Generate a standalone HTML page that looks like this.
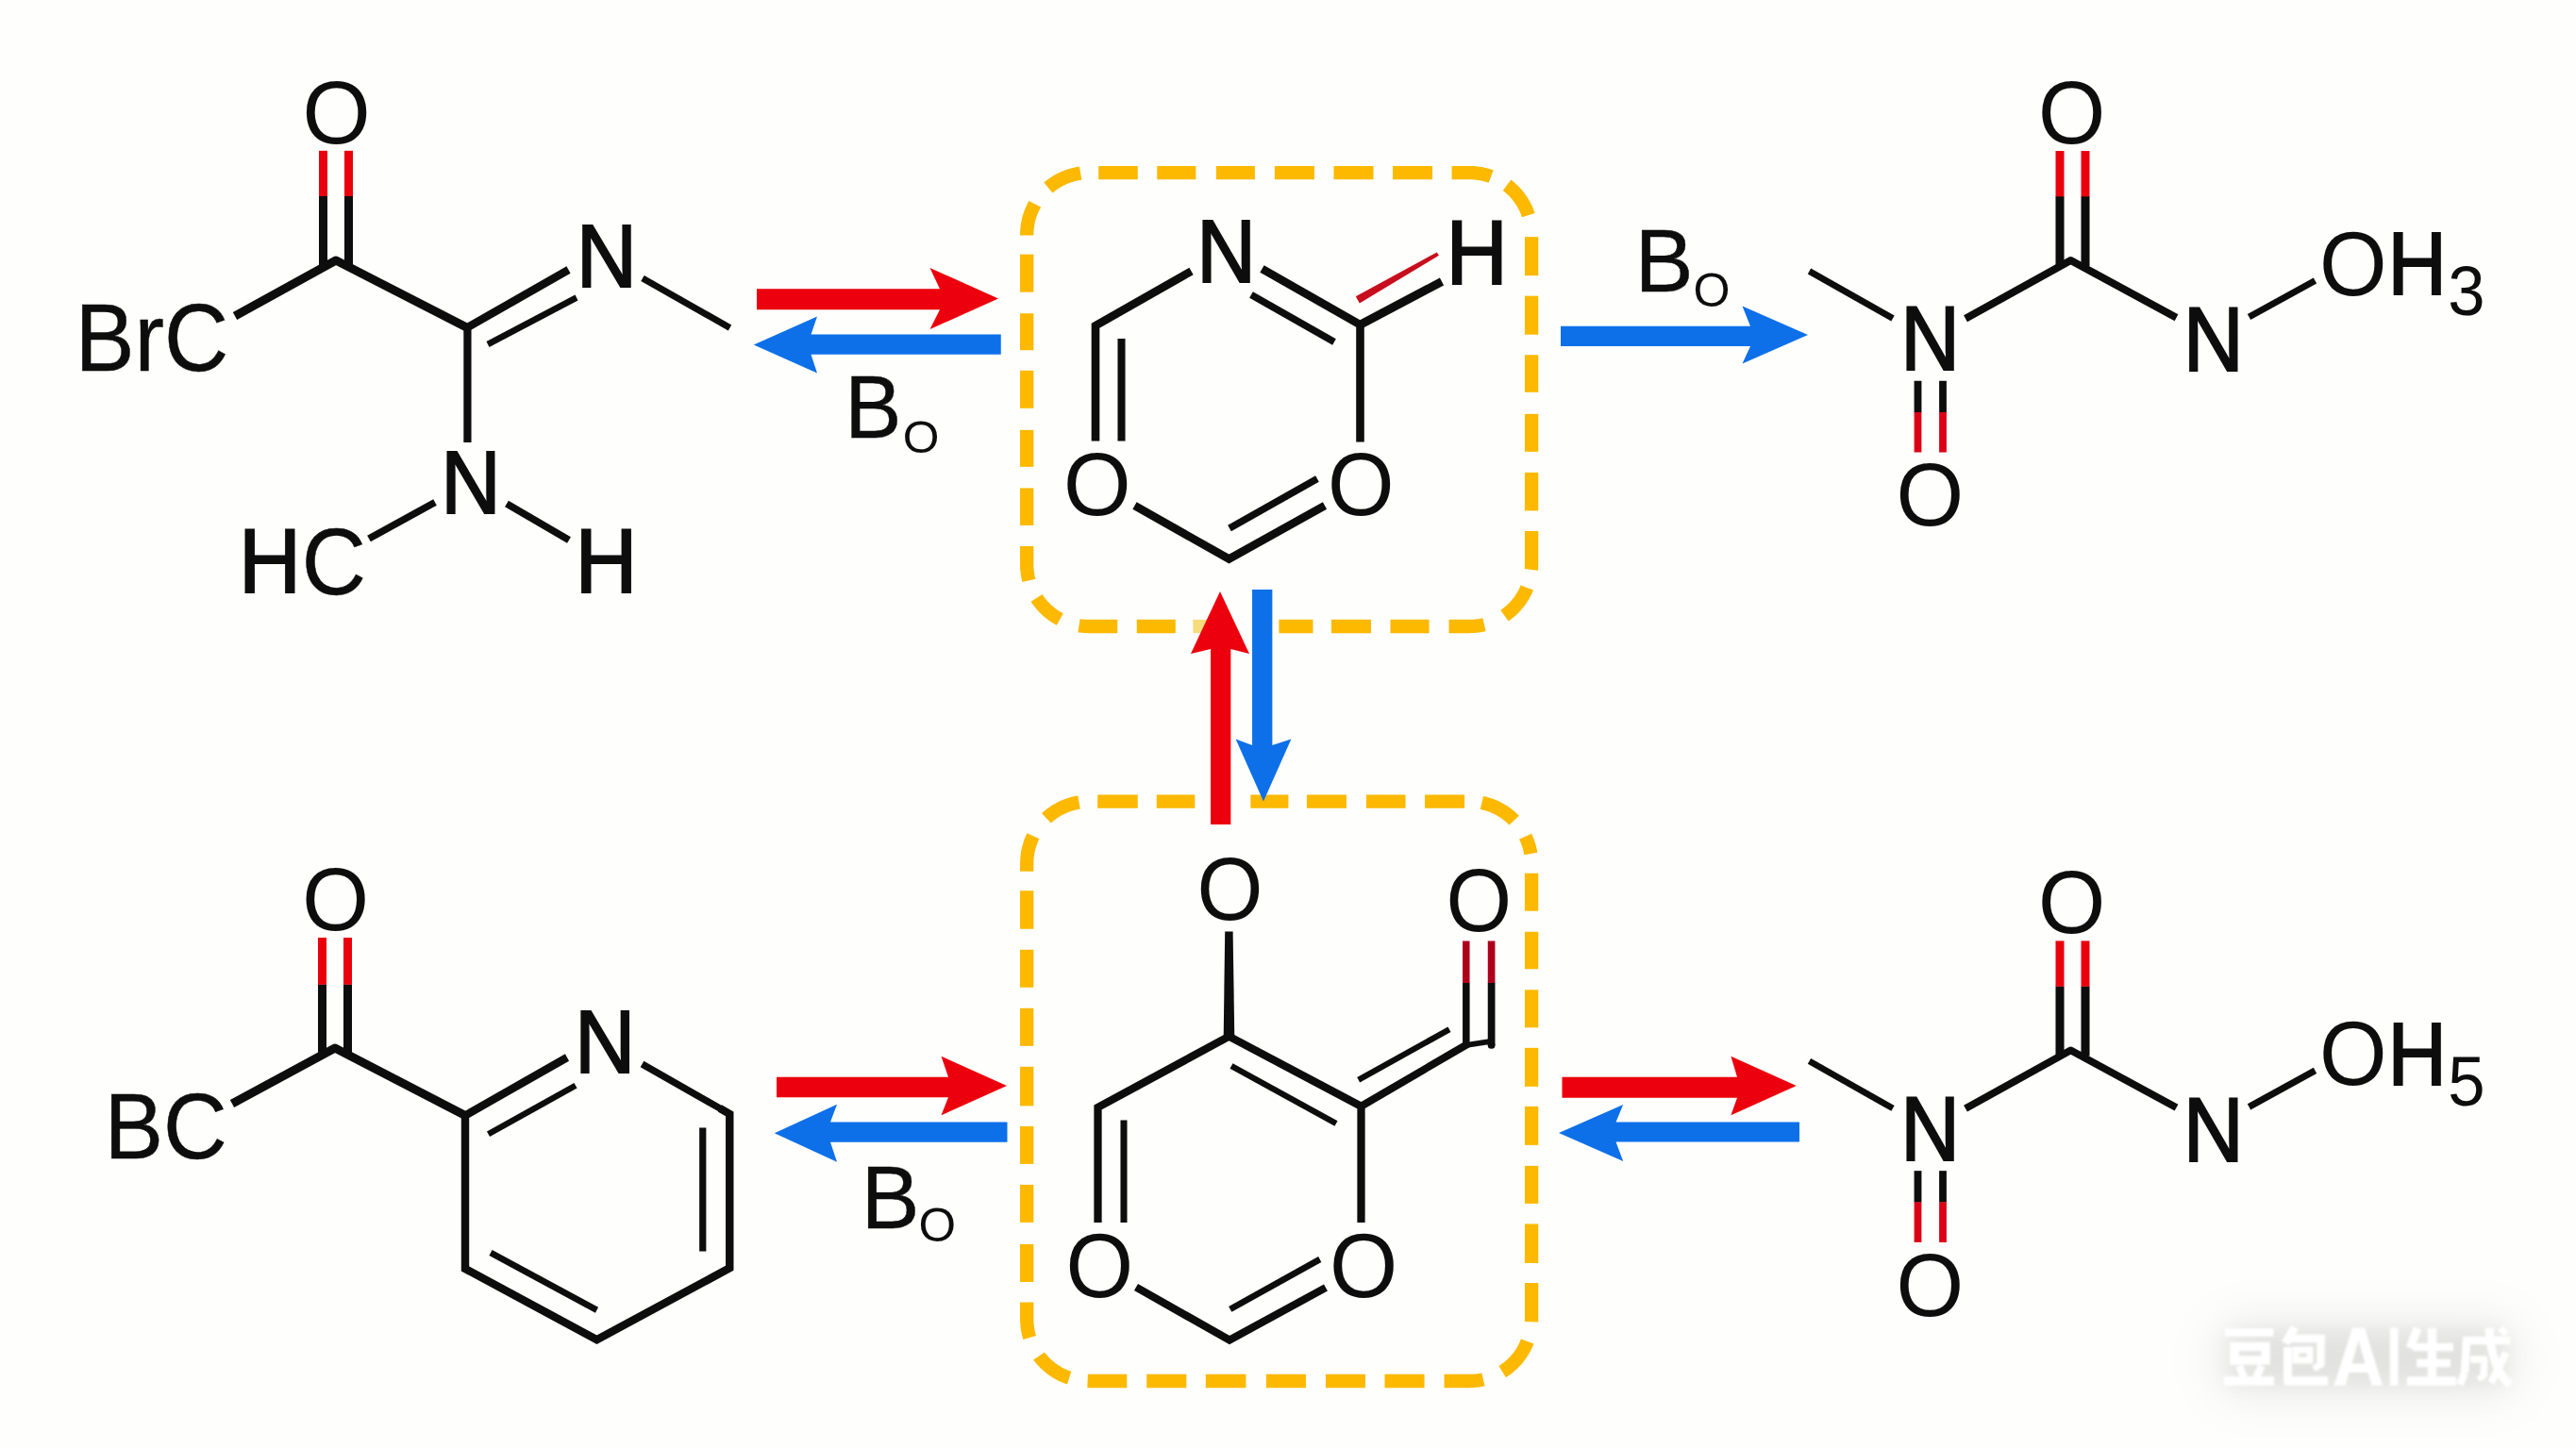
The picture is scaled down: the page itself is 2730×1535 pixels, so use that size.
<!DOCTYPE html>
<html><head><meta charset="utf-8"><title>Reaction scheme</title>
<style>
html,body{margin:0;padding:0;background:#fefefd;}
body{width:2730px;height:1535px;overflow:hidden;}
svg{display:block;font-family:"Liberation Sans",sans-serif;}
</style></head><body>
<svg width="2730" height="1535" viewBox="0 0 2730 1535">
<defs>
<filter id="glow" x="-50%" y="-150%" width="200%" height="400%"><feGaussianBlur stdDeviation="26"/></filter>
<filter id="glow2" x="-50%" y="-150%" width="200%" height="400%"><feGaussianBlur stdDeviation="9"/></filter>
<filter id="soft" x="-5%" y="-20%" width="110%" height="140%"><feGaussianBlur stdDeviation="0.8"/></filter>
<filter id="b" x="-2%" y="-2%" width="104%" height="104%"><feGaussianBlur stdDeviation="0.7"/></filter>
</defs>
<rect width="2730" height="1535" fill="#fefefd"/>
<g filter="url(#glow)"><rect x="2352" y="1404" width="312" height="72" rx="20" fill="#000" opacity="0.085"/></g><g filter="url(#glow2)"><rect x="2360" y="1408" width="298" height="62" rx="10" fill="#000" opacity="0.04"/></g><g stroke="#ffffff" stroke-linecap="butt" fill="none" filter="url(#soft)"><line x1="2358" y1="1412.5" x2="2409.5" y2="1412.5" stroke-width="8.5"/><rect x="2368" y="1427.5" width="33" height="14.5" fill="none" stroke-width="9.5"/><line x1="2373" y1="1448" x2="2378" y2="1460" stroke-width="8"/><line x1="2397" y1="1448" x2="2391" y2="1460" stroke-width="8"/><line x1="2357" y1="1464" x2="2410" y2="1464" stroke-width="9.5"/><line x1="2432" y1="1407" x2="2422" y2="1424" stroke-width="9"/><line x1="2426" y1="1419" x2="2464" y2="1419" stroke-width="8.5"/><line x1="2459.5" y1="1419" x2="2459.5" y2="1447" stroke-width="8.5"/><line x1="2452" y1="1451" x2="2462" y2="1445" stroke-width="7"/><rect x="2433" y="1431" width="15" height="11" fill="none" stroke-width="7"/><line x1="2424.5" y1="1428" x2="2424.5" y2="1466" stroke-width="9"/><line x1="2421" y1="1464" x2="2467" y2="1464" stroke-width="9.5"/><path d="M2473.6 1468.8 L2493 1407.6 L2506 1407.6 L2525 1468.8 L2513.5 1468.8 L2509.5 1455 L2489.5 1455 L2485.5 1468.8 Z M2492.5 1445.5 L2506.5 1445.5 L2499.5 1421 Z" fill="#fff" fill-rule="evenodd" stroke="none"/><line x1="2537.2" y1="1407.6" x2="2537.2" y2="1468.8" stroke-width="8.8"/><line x1="2562" y1="1408" x2="2554" y2="1429" stroke-width="9"/><line x1="2557" y1="1428" x2="2600" y2="1428" stroke-width="8.5"/><line x1="2561" y1="1445" x2="2597" y2="1445" stroke-width="8.5"/><line x1="2551" y1="1464.3" x2="2603" y2="1464.3" stroke-width="9.5"/><line x1="2577.5" y1="1408" x2="2577.5" y2="1464" stroke-width="9.5"/><line x1="2610" y1="1421" x2="2660" y2="1421" stroke-width="8.5"/><line x1="2614" y1="1421" x2="2612" y2="1455" stroke-width="8.5"/><line x1="2612" y1="1455" x2="2607" y2="1468" stroke-width="8"/><line x1="2618" y1="1441" x2="2636" y2="1441" stroke-width="7.5"/><line x1="2633" y1="1441" x2="2632" y2="1460" stroke-width="7.5"/><line x1="2626" y1="1462" x2="2633" y2="1459" stroke-width="6"/><path d="M2638 1407.6 Q2640 1450 2660 1468" fill="none" stroke-width="9"/><line x1="2656" y1="1434" x2="2640" y2="1466" stroke-width="8"/><line x1="2650" y1="1408" x2="2656" y2="1414" stroke-width="7"/></g>
<g filter="url(#b)">
<path d="M1088.20 249.60 L1088.20 249.10 L1088.20 248.60 L1088.22 248.06 L1088.24 247.53 L1088.25 246.99 L1088.27 246.46 L1088.29 245.92 L1088.31 245.39 L1088.32 244.85 L1088.34 244.32 L1088.39 243.78 L1088.45 243.25 L1088.50 242.72 L1088.55 242.18 L1088.60 241.65 L1088.66 241.12 L1088.71 240.58 L1088.76 240.05 L1088.85 239.52 L1088.93 238.99 L1089.02 238.46 L1089.11 237.94 L1089.20 237.41 L1089.28 236.88 L1089.37 236.35 L1089.46 235.82 L1089.58 235.30 L1089.70 234.78 L1089.82 234.26 L1089.95 233.73 L1090.07 233.21 L1090.19 232.69 L1090.31 232.17 L1090.43 231.65 L1090.59 231.13 L1090.74 230.62 L1090.90 230.11 L1091.05 229.60 L1091.21 229.08 L1091.37 228.57 L1091.52 228.06 L1091.68 227.55 L1091.86 227.04 L1092.05 226.54 L1092.24 226.04 L1092.43 225.54 L1092.62 225.04 L1092.81 224.54 L1093.00 224.04 L1093.19 223.53 L1093.41 223.05 L1093.63 222.56 L1093.85 222.07 L1094.07 221.58 L1094.29 221.09 L1094.51 220.61 L1094.73 220.12 L1094.95 219.63 L1095.21 219.16 L1095.46 218.69 L1095.71 218.21 L1095.97 217.74 L1096.22 217.27 L1096.47 216.80 L1096.72 216.32" fill="none" stroke="#fcb900" stroke-width="14.3" />
<path d="M1110.93 199.01 L1111.34 198.67 L1111.76 198.33 L1112.17 197.99 L1112.58 197.66 L1113.00 197.32 L1113.41 196.98 L1113.83 196.64 L1114.26 196.32 L1114.70 196.01 L1115.13 195.70 L1115.57 195.39 L1116.00 195.07 L1116.44 194.76 L1116.87 194.45 L1117.31 194.14 L1117.77 193.86 L1118.22 193.57 L1118.68 193.29 L1119.13 193.01 L1119.59 192.72 L1120.04 192.44 L1120.50 192.16 L1120.95 191.88 L1121.42 191.62 L1121.90 191.37 L1122.37 191.12 L1122.84 190.87 L1123.31 190.61 L1123.79 190.36 L1124.26 190.11 L1124.73 189.85 L1125.22 189.63 L1125.71 189.41 L1126.19 189.19 L1126.68 188.97 L1127.17 188.75 L1127.66 188.53 L1128.15 188.31 L1128.63 188.09 L1129.14 187.90 L1129.64 187.71 L1130.14 187.52 L1130.64 187.33 L1131.14 187.14 L1131.64 186.95 L1132.14 186.76 L1132.65 186.58 L1133.16 186.42 L1133.67 186.27 L1134.18 186.11 L1134.70 185.95 L1135.21 185.80 L1135.72 185.64 L1136.23 185.49 L1136.75 185.33 L1137.27 185.21 L1137.79 185.09 L1138.31 184.97 L1138.83 184.85 L1139.36 184.72 L1139.88 184.60 L1140.40 184.48 L1140.92 184.36 L1141.45 184.27 L1141.98 184.18 L1142.51 184.10 L1143.04 184.01 L1143.56 183.92 L1144.09 183.83 L1144.62 183.75 L1145.15 183.66" fill="none" stroke="#fcb900" stroke-width="14.3" />
<path d="M1164.21 183.10 L1165.21 183.10 L1166.21 183.10 L1167.21 183.10 L1168.21 183.10 L1169.22 183.10 L1170.22 183.10 L1171.22 183.10 L1172.22 183.10 L1173.22 183.10 L1174.22 183.10 L1175.22 183.10 L1176.22 183.10 L1177.22 183.10 L1178.22 183.10 L1179.23 183.10 L1180.23 183.10 L1181.23 183.10 L1182.23 183.10 L1183.23 183.10 L1184.23 183.10 L1185.23 183.10 L1186.23 183.10 L1187.23 183.10 L1188.23 183.10 L1189.24 183.10 L1190.24 183.10 L1191.24 183.10 L1192.24 183.10 L1193.24 183.10 L1194.24 183.10 L1195.24 183.10 L1196.24 183.10 L1197.24 183.10 L1198.24 183.10 L1199.25 183.10 L1200.25 183.10 L1201.25 183.10 L1202.25 183.10 L1203.25 183.10 L1204.25 183.10 L1205.25 183.10 L1205.75 183.10" fill="none" stroke="#fcb900" stroke-width="14.3" />
<path d="M1226.27 183.10 L1227.27 183.10 L1228.27 183.10 L1229.27 183.10 L1230.28 183.10 L1231.28 183.10 L1232.28 183.10 L1233.28 183.10 L1234.28 183.10 L1235.28 183.10 L1236.28 183.10 L1237.28 183.10 L1238.28 183.10 L1239.28 183.10 L1240.29 183.10 L1241.29 183.10 L1242.29 183.10 L1243.29 183.10 L1244.29 183.10 L1245.29 183.10 L1246.29 183.10 L1247.29 183.10 L1248.29 183.10 L1249.29 183.10 L1250.30 183.10 L1251.30 183.10 L1252.30 183.10 L1253.30 183.10 L1254.30 183.10 L1255.30 183.10 L1256.30 183.10 L1257.30 183.10 L1258.30 183.10 L1259.30 183.10 L1260.31 183.10 L1261.31 183.10 L1262.31 183.10 L1263.31 183.10 L1264.31 183.10 L1265.31 183.10 L1266.31 183.10 L1267.31 183.10" fill="none" stroke="#fcb900" stroke-width="14.3" />
<path d="M1288.83 183.10 L1289.83 183.10 L1290.84 183.10 L1291.84 183.10 L1292.84 183.10 L1293.84 183.10 L1294.84 183.10 L1295.84 183.10 L1296.84 183.10 L1297.84 183.10 L1298.84 183.10 L1299.84 183.10 L1300.85 183.10 L1301.85 183.10 L1302.85 183.10 L1303.85 183.10 L1304.85 183.10 L1305.85 183.10 L1306.85 183.10 L1307.85 183.10 L1308.85 183.10 L1309.85 183.10 L1310.86 183.10 L1311.86 183.10 L1312.86 183.10 L1313.86 183.10 L1314.86 183.10 L1315.86 183.10 L1316.86 183.10 L1317.86 183.10 L1318.86 183.10 L1319.86 183.10 L1320.87 183.10 L1321.87 183.10 L1322.87 183.10 L1323.87 183.10 L1324.87 183.10 L1325.87 183.10 L1326.87 183.10 L1327.87 183.10 L1328.87 183.10 L1329.87 183.10" fill="none" stroke="#fcb900" stroke-width="14.3" />
<path d="M1350.90 183.10 L1351.90 183.10 L1352.90 183.10 L1353.90 183.10 L1354.90 183.10 L1355.90 183.10 L1356.90 183.10 L1357.90 183.10 L1358.90 183.10 L1359.90 183.10 L1360.91 183.10 L1361.91 183.10 L1362.91 183.10 L1363.91 183.10 L1364.91 183.10 L1365.91 183.10 L1366.91 183.10 L1367.91 183.10 L1368.91 183.10 L1369.91 183.10 L1370.92 183.10 L1371.92 183.10 L1372.92 183.10 L1373.92 183.10 L1374.92 183.10 L1375.92 183.10 L1376.92 183.10 L1377.92 183.10 L1378.92 183.10 L1379.92 183.10 L1380.93 183.10 L1381.93 183.10 L1382.93 183.10 L1383.93 183.10 L1384.93 183.10 L1385.93 183.10 L1386.93 183.10 L1387.93 183.10 L1388.93 183.10 L1389.93 183.10 L1390.93 183.10 L1391.94 183.10 L1392.94 183.10" fill="none" stroke="#fcb900" stroke-width="14.3" />
<path d="M1413.46 183.10 L1414.46 183.10 L1415.46 183.10 L1416.46 183.10 L1417.46 183.10 L1418.46 183.10 L1419.46 183.10 L1420.46 183.10 L1421.47 183.10 L1422.47 183.10 L1423.47 183.10 L1424.47 183.10 L1425.47 183.10 L1426.47 183.10 L1427.47 183.10 L1428.47 183.10 L1429.47 183.10 L1430.47 183.10 L1431.48 183.10 L1432.48 183.10 L1433.48 183.10 L1434.48 183.10 L1435.48 183.10 L1436.48 183.10 L1437.48 183.10 L1438.48 183.10 L1439.48 183.10 L1440.48 183.10 L1441.49 183.10 L1442.49 183.10 L1443.49 183.10 L1444.49 183.10 L1445.49 183.10 L1446.49 183.10 L1447.49 183.10 L1448.49 183.10 L1449.49 183.10 L1450.49 183.10 L1451.49 183.10 L1452.50 183.10 L1453.50 183.10 L1454.50 183.10 L1455.50 183.10" fill="none" stroke="#fcb900" stroke-width="14.3" />
<path d="M1476.02 183.10 L1477.02 183.10 L1478.02 183.10 L1479.02 183.10 L1480.02 183.10 L1481.02 183.10 L1482.03 183.10 L1483.03 183.10 L1484.03 183.10 L1485.03 183.10 L1486.03 183.10 L1487.03 183.10 L1488.03 183.10 L1489.03 183.10 L1490.03 183.10 L1491.03 183.10 L1492.04 183.10 L1493.04 183.10 L1494.04 183.10 L1495.04 183.10 L1496.04 183.10 L1497.04 183.10 L1498.04 183.10 L1499.04 183.10 L1500.04 183.10 L1501.04 183.10 L1502.04 183.10 L1503.05 183.10 L1504.05 183.10 L1505.05 183.10 L1506.05 183.10 L1507.05 183.10 L1508.05 183.10 L1509.05 183.10 L1510.05 183.10 L1511.05 183.10 L1512.05 183.10 L1513.06 183.10 L1514.06 183.10 L1515.06 183.10 L1516.06 183.10 L1517.06 183.10 L1518.06 183.10" fill="none" stroke="#fcb900" stroke-width="14.3" />
<path d="M1538.58 183.10 L1539.58 183.10 L1540.58 183.10 L1541.58 183.10 L1542.59 183.10 L1543.59 183.10 L1544.59 183.10 L1545.59 183.10 L1546.59 183.10 L1547.59 183.10 L1548.59 183.10 L1549.59 183.10 L1550.59 183.10 L1551.59 183.10 L1552.60 183.10 L1553.60 183.10 L1554.60 183.10 L1555.60 183.10 L1556.60 183.10 L1557.60 183.10 L1558.67 183.14 L1559.74 183.17 L1560.81 183.21 L1561.88 183.24 L1562.95 183.35 L1564.02 183.45 L1565.08 183.56 L1566.15 183.66 L1567.21 183.83 L1568.26 184.01 L1569.32 184.18 L1570.38 184.36 L1571.42 184.60 L1572.47 184.85 L1573.51 185.09 L1574.55 185.33 L1575.58 185.64 L1576.60 185.95 L1577.63 186.27 L1578.65 186.58 L1579.66 186.95 L1580.16 187.14" fill="none" stroke="#fcb900" stroke-width="14.3" />
<path d="M1597.04 196.32 L1597.47 196.64 L1597.89 196.98 L1598.30 197.32 L1598.72 197.66 L1599.13 197.99 L1599.54 198.33 L1599.96 198.67 L1600.37 199.01 L1600.79 199.35 L1601.18 199.72 L1601.57 200.09 L1601.96 200.45 L1602.35 200.82 L1602.74 201.19 L1603.13 201.55 L1603.52 201.92 L1603.92 202.28 L1604.28 202.68 L1604.65 203.07 L1605.01 203.46 L1605.38 203.85 L1605.75 204.24 L1606.11 204.63 L1606.48 205.02 L1606.85 205.41 L1607.19 205.83 L1607.53 206.24 L1607.87 206.66 L1608.21 207.07 L1608.54 207.48 L1608.88 207.90 L1609.22 208.31 L1609.56 208.73 L1609.88 209.16 L1610.19 209.60 L1610.50 210.03 L1610.81 210.47 L1611.13 210.90 L1611.44 211.34 L1611.75 211.77 L1612.06 212.21 L1612.34 212.67 L1612.63 213.12 L1612.91 213.58 L1613.19 214.03 L1613.48 214.49 L1613.76 214.94 L1614.04 215.40 L1614.32 215.85 L1614.58 216.32 L1614.83 216.80 L1615.08 217.27 L1615.33 217.74 L1615.59 218.21 L1615.84 218.69 L1616.09 219.16 L1616.35 219.63 L1616.57 220.12 L1616.79 220.61 L1617.01 221.09 L1617.23 221.58 L1617.45 222.07 L1617.67 222.56 L1617.89 223.05 L1618.11 223.53 L1618.30 224.04 L1618.49 224.54 L1618.68 225.04 L1618.87 225.54 L1619.06 226.04 L1619.25 226.54 L1619.44 227.04 L1619.62 227.55 L1619.78 228.06" fill="none" stroke="#fcb900" stroke-width="14.3" />
<path d="M1623.10 251.10 L1623.10 252.10 L1623.10 253.11 L1623.10 254.11 L1623.10 255.11 L1623.10 256.11 L1623.10 257.11 L1623.10 258.11 L1623.10 259.11 L1623.10 260.11 L1623.10 261.11 L1623.10 262.12 L1623.10 263.12 L1623.10 264.12 L1623.10 265.12 L1623.10 266.12 L1623.10 267.12 L1623.10 268.12 L1623.10 269.12 L1623.10 270.12 L1623.10 271.13 L1623.10 272.13 L1623.10 273.13 L1623.10 274.13 L1623.10 275.13 L1623.10 276.13 L1623.10 277.13 L1623.10 278.13 L1623.10 279.13 L1623.10 280.14 L1623.10 281.14 L1623.10 282.14 L1623.10 283.14 L1623.10 284.14 L1623.10 285.14 L1623.10 286.14 L1623.10 287.14 L1623.10 288.15 L1623.10 289.15 L1623.10 290.15 L1623.10 291.15 L1623.10 292.15" fill="none" stroke="#fcb900" stroke-width="14.3" />
<path d="M1623.10 313.67 L1623.10 314.68 L1623.10 315.68 L1623.10 316.68 L1623.10 317.68 L1623.10 318.68 L1623.10 319.68 L1623.10 320.68 L1623.10 321.68 L1623.10 322.68 L1623.10 323.69 L1623.10 324.69 L1623.10 325.69 L1623.10 326.69 L1623.10 327.69 L1623.10 328.69 L1623.10 329.69 L1623.10 330.69 L1623.10 331.69 L1623.10 332.70 L1623.10 333.70 L1623.10 334.70 L1623.10 335.70 L1623.10 336.70 L1623.10 337.70 L1623.10 338.70 L1623.10 339.70 L1623.10 340.71 L1623.10 341.71 L1623.10 342.71 L1623.10 343.71 L1623.10 344.71 L1623.10 345.71 L1623.10 346.71 L1623.10 347.71 L1623.10 348.71 L1623.10 349.72 L1623.10 350.72 L1623.10 351.72 L1623.10 352.72 L1623.10 353.72 L1623.10 354.72" fill="none" stroke="#fcb900" stroke-width="14.3" />
<path d="M1623.10 376.25 L1623.10 377.25 L1623.10 378.25 L1623.10 379.25 L1623.10 380.25 L1623.10 381.25 L1623.10 382.25 L1623.10 383.25 L1623.10 384.26 L1623.10 385.26 L1623.10 386.26 L1623.10 387.26 L1623.10 388.26 L1623.10 389.26 L1623.10 390.26 L1623.10 391.26 L1623.10 392.26 L1623.10 393.27 L1623.10 394.27 L1623.10 395.27 L1623.10 396.27 L1623.10 397.27 L1623.10 398.27 L1623.10 399.27 L1623.10 400.27 L1623.10 401.27 L1623.10 402.28 L1623.10 403.28 L1623.10 404.28 L1623.10 405.28 L1623.10 406.28 L1623.10 407.28 L1623.10 408.28 L1623.10 409.28 L1623.10 410.28 L1623.10 411.29 L1623.10 412.29 L1623.10 413.29 L1623.10 414.29 L1623.10 415.29 L1623.10 415.79" fill="none" stroke="#fcb900" stroke-width="14.3" />
<path d="M1623.10 438.82 L1623.10 439.82 L1623.10 440.82 L1623.10 441.82 L1623.10 442.82 L1623.10 443.82 L1623.10 444.82 L1623.10 445.83 L1623.10 446.83 L1623.10 447.83 L1623.10 448.83 L1623.10 449.83 L1623.10 450.83 L1623.10 451.83 L1623.10 452.83 L1623.10 453.83 L1623.10 454.84 L1623.10 455.84 L1623.10 456.84 L1623.10 457.84 L1623.10 458.84 L1623.10 459.84 L1623.10 460.84 L1623.10 461.84 L1623.10 462.84 L1623.10 463.85 L1623.10 464.85 L1623.10 465.85 L1623.10 466.85 L1623.10 467.85 L1623.10 468.85 L1623.10 469.85 L1623.10 470.85 L1623.10 471.86 L1623.10 472.86 L1623.10 473.86 L1623.10 474.86 L1623.10 475.86 L1623.10 476.86 L1623.10 477.86 L1623.10 478.86" fill="none" stroke="#fcb900" stroke-width="14.3" />
<path d="M1623.10 500.89 L1623.10 501.89 L1623.10 502.89 L1623.10 503.89 L1623.10 504.89 L1623.10 505.89 L1623.10 506.90 L1623.10 507.90 L1623.10 508.90 L1623.10 509.90 L1623.10 510.90 L1623.10 511.90 L1623.10 512.90 L1623.10 513.90 L1623.10 514.90 L1623.10 515.91 L1623.10 516.91 L1623.10 517.91 L1623.10 518.91 L1623.10 519.91 L1623.10 520.91 L1623.10 521.91 L1623.10 522.91 L1623.10 523.91 L1623.10 524.92 L1623.10 525.92 L1623.10 526.92 L1623.10 527.92 L1623.10 528.92 L1623.10 529.92 L1623.10 530.92 L1623.10 531.92 L1623.10 532.93 L1623.10 533.93 L1623.10 534.93 L1623.10 535.93 L1623.10 536.93 L1623.10 537.93 L1623.10 538.93 L1623.10 539.93 L1623.10 540.93 L1623.10 541.43" fill="none" stroke="#fcb900" stroke-width="14.3" />
<path d="M1623.10 562.96 L1623.10 563.96 L1623.10 564.96 L1623.10 565.96 L1623.10 566.96 L1623.10 567.97 L1623.10 568.97 L1623.10 569.97 L1623.10 570.97 L1623.10 571.97 L1623.10 572.97 L1623.10 573.97 L1623.10 574.97 L1623.10 575.97 L1623.10 576.98 L1623.10 577.98 L1623.10 578.98 L1623.10 579.98 L1623.10 580.98 L1623.10 581.98 L1623.10 582.98 L1623.10 583.98 L1623.10 584.98 L1623.10 585.99 L1623.10 586.99 L1623.10 587.99 L1623.10 588.99 L1623.10 589.99 L1623.10 590.99 L1623.10 591.99 L1623.10 592.99 L1623.10 593.99 L1623.10 595.00 L1623.10 596.00 L1623.10 597.00 L1623.10 598.00 L1623.08 599.04 L1623.05 600.11 L1623.01 601.18 L1622.98 602.25 L1622.91 603.32 L1622.85 603.85" fill="none" stroke="#fcb900" stroke-width="14.3" />
<path d="M1618.30 623.06 L1618.11 623.57 L1617.89 624.05 L1617.67 624.54 L1617.45 625.03 L1617.23 625.52 L1617.01 626.01 L1616.79 626.49 L1616.57 626.98 L1616.35 627.47 L1616.09 627.94 L1615.84 628.41 L1615.59 628.89 L1615.33 629.36 L1615.08 629.83 L1614.83 630.30 L1614.58 630.78 L1614.32 631.25 L1614.04 631.70 L1613.76 632.16 L1613.48 632.61 L1613.19 633.07 L1612.91 633.52 L1612.63 633.98 L1612.34 634.43 L1612.06 634.89 L1611.75 635.33 L1611.44 635.76 L1611.13 636.20 L1610.81 636.63 L1610.50 637.07 L1610.19 637.50 L1609.88 637.94 L1609.56 638.37 L1609.22 638.79 L1608.88 639.20 L1608.54 639.62 L1608.21 640.03 L1607.87 640.44 L1607.53 640.86 L1607.19 641.27 L1606.85 641.69 L1606.48 642.08 L1606.11 642.47 L1605.75 642.86 L1605.38 643.25 L1605.01 643.64 L1604.65 644.03 L1604.28 644.42 L1603.92 644.82 L1603.52 645.18 L1603.13 645.55 L1602.74 645.91 L1602.35 646.28 L1601.96 646.65 L1601.57 647.01 L1601.18 647.38 L1600.79 647.75 L1600.37 648.09 L1599.96 648.43 L1599.54 648.77 L1599.13 649.11 L1598.72 649.44 L1598.30 649.78 L1597.89 650.12 L1597.47 650.46 L1597.04 650.78 L1596.60 651.09 L1596.17 651.40 L1595.73 651.71 L1595.30 652.03 L1594.86 652.34 L1594.43 652.65" fill="none" stroke="#fcb900" stroke-width="14.3" />
<path d="M1572.99 662.13 L1572.47 662.25 L1571.94 662.38 L1571.42 662.50 L1570.90 662.62 L1570.38 662.74 L1569.85 662.83 L1569.32 662.92 L1568.79 663.00 L1568.26 663.09 L1567.74 663.18 L1567.21 663.27 L1566.68 663.35 L1566.15 663.44 L1565.62 663.49 L1565.08 663.54 L1564.55 663.60 L1564.02 663.65 L1563.48 663.70 L1562.95 663.75 L1562.42 663.81 L1561.88 663.86 L1561.35 663.88 L1560.81 663.89 L1560.28 663.91 L1559.74 663.93 L1559.21 663.95 L1558.67 663.96 L1558.14 663.98 L1557.60 664.00 L1557.10 664.00 L1556.60 664.00 L1556.10 664.00 L1555.60 664.00 L1555.10 664.00 L1554.60 664.00 L1554.10 664.00 L1553.60 664.00 L1553.10 664.00 L1552.60 664.00 L1552.09 664.00 L1551.59 664.00 L1551.09 664.00 L1550.59 664.00 L1550.09 664.00 L1549.59 664.00 L1549.09 664.00 L1548.59 664.00 L1548.09 664.00 L1547.59 664.00 L1547.09 664.00 L1546.59 664.00 L1546.09 664.00 L1545.59 664.00 L1545.09 664.00 L1544.59 664.00 L1544.09 664.00 L1543.59 664.00 L1543.09 664.00 L1542.59 664.00 L1542.08 664.00 L1541.58 664.00 L1541.08 664.00 L1540.58 664.00 L1540.08 664.00 L1539.58 664.00 L1539.08 664.00 L1538.58 664.00 L1538.08 664.00 L1537.58 664.00 L1537.08 664.00 L1536.58 664.00 L1536.08 664.00 L1535.58 664.00" fill="none" stroke="#fcb900" stroke-width="14.3" />
<path d="M1514.56 664.00 L1513.56 664.00 L1512.56 664.00 L1511.55 664.00 L1510.55 664.00 L1509.55 664.00 L1508.55 664.00 L1507.55 664.00 L1506.55 664.00 L1505.55 664.00 L1504.55 664.00 L1503.55 664.00 L1502.55 664.00 L1501.54 664.00 L1500.54 664.00 L1499.54 664.00 L1498.54 664.00 L1497.54 664.00 L1496.54 664.00 L1495.54 664.00 L1494.54 664.00 L1493.54 664.00 L1492.54 664.00 L1491.53 664.00 L1490.53 664.00 L1489.53 664.00 L1488.53 664.00 L1487.53 664.00 L1486.53 664.00 L1485.53 664.00 L1484.53 664.00 L1483.53 664.00 L1482.53 664.00 L1481.52 664.00 L1480.52 664.00 L1479.52 664.00 L1478.52 664.00 L1477.52 664.00 L1476.52 664.00 L1475.52 664.00 L1474.52 664.00 L1473.52 664.00" fill="none" stroke="#fcb900" stroke-width="14.3" />
<path d="M1453.00 664.00 L1452.00 664.00 L1450.99 664.00 L1449.99 664.00 L1448.99 664.00 L1447.99 664.00 L1446.99 664.00 L1445.99 664.00 L1444.99 664.00 L1443.99 664.00 L1442.99 664.00 L1441.99 664.00 L1440.98 664.00 L1439.98 664.00 L1438.98 664.00 L1437.98 664.00 L1436.98 664.00 L1435.98 664.00 L1434.98 664.00 L1433.98 664.00 L1432.98 664.00 L1431.98 664.00 L1430.97 664.00 L1429.97 664.00 L1428.97 664.00 L1427.97 664.00 L1426.97 664.00 L1425.97 664.00 L1424.97 664.00 L1423.97 664.00 L1422.97 664.00 L1421.97 664.00 L1420.96 664.00 L1419.96 664.00 L1418.96 664.00 L1417.96 664.00 L1416.96 664.00 L1415.96 664.00 L1414.96 664.00 L1413.96 664.00 L1412.96 664.00 L1411.96 664.00 L1410.95 664.00" fill="none" stroke="#fcb900" stroke-width="14.3" />
<path d="M1391.44 664.00 L1390.93 664.00 L1390.43 664.00 L1389.93 664.00 L1389.43 664.00 L1388.93 664.00 L1388.43 664.00 L1387.93 664.00 L1387.43 664.00 L1386.93 664.00 L1386.43 664.00 L1385.93 664.00 L1385.43 664.00 L1384.93 664.00 L1384.43 664.00 L1383.93 664.00 L1383.43 664.00 L1382.93 664.00 L1382.43 664.00 L1381.93 664.00 L1381.43 664.00 L1380.93 664.00 L1380.42 664.00 L1379.92 664.00 L1379.42 664.00 L1378.92 664.00 L1378.42 664.00 L1377.92 664.00 L1377.42 664.00 L1376.92 664.00 L1376.42 664.00 L1375.92 664.00 L1375.42 664.00 L1374.92 664.00 L1374.42 664.00 L1373.92 664.00 L1373.42 664.00 L1372.92 664.00 L1372.42 664.00 L1371.92 664.00 L1371.42 664.00 L1370.92 664.00 L1370.41 664.00 L1369.91 664.00 L1369.41 664.00 L1368.91 664.00 L1368.41 664.00 L1367.91 664.00 L1367.41 664.00 L1366.91 664.00 L1366.41 664.00 L1365.91 664.00 L1365.41 664.00 L1364.91 664.00 L1364.41 664.00 L1363.91 664.00 L1363.41 664.00 L1362.91 664.00 L1362.41 664.00 L1361.91 664.00 L1361.41 664.00 L1360.91 664.00 L1360.40 664.00 L1359.90 664.00 L1359.40 664.00 L1358.90 664.00 L1358.40 664.00 L1357.90 664.00 L1357.40 664.00 L1356.90 664.00 L1356.40 664.00 L1355.90 664.00 L1355.40 664.00" fill="none" stroke="#fcb900" stroke-width="14.3" />
<path d="M1282.83 664.00 L1282.33 664.00 L1281.83 664.00 L1281.33 664.00 L1280.83 664.00 L1280.33 664.00 L1279.82 664.00 L1279.32 664.00 L1278.82 664.00 L1278.32 664.00 L1277.82 664.00 L1277.32 664.00 L1276.82 664.00 L1276.32 664.00 L1275.82 664.00 L1275.32 664.00 L1274.82 664.00 L1274.32 664.00 L1273.82 664.00 L1273.32 664.00 L1272.82 664.00 L1272.32 664.00 L1271.82 664.00 L1271.32 664.00 L1270.82 664.00 L1270.32 664.00 L1269.81 664.00 L1269.31 664.00 L1268.81 664.00 L1268.31 664.00 L1267.81 664.00 L1267.31 664.00 L1266.81 664.00 L1266.31 664.00 L1265.81 664.00 L1265.31 664.00 L1264.81 664.00 L1264.31 664.00" fill="none" stroke="#f7dc7e" stroke-width="14.3" />
<path d="M1245.79 664.00 L1244.79 664.00 L1243.79 664.00 L1242.79 664.00 L1241.79 664.00 L1240.79 664.00 L1239.79 664.00 L1238.78 664.00 L1237.78 664.00 L1236.78 664.00 L1235.78 664.00 L1234.78 664.00 L1233.78 664.00 L1232.78 664.00 L1231.78 664.00 L1230.78 664.00 L1229.78 664.00 L1228.77 664.00 L1227.77 664.00 L1226.77 664.00 L1225.77 664.00 L1224.77 664.00 L1223.77 664.00 L1222.77 664.00 L1221.77 664.00 L1220.77 664.00 L1219.77 664.00 L1218.76 664.00 L1217.76 664.00 L1216.76 664.00 L1215.76 664.00 L1214.76 664.00 L1213.76 664.00 L1212.76 664.00 L1211.76 664.00 L1210.76 664.00 L1209.76 664.00 L1208.75 664.00 L1207.75 664.00 L1206.75 664.00 L1205.75 664.00 L1204.75 664.00" fill="none" stroke="#fcb900" stroke-width="14.3" />
<path d="M1184.23 664.00 L1183.23 664.00 L1182.23 664.00 L1181.23 664.00 L1180.23 664.00 L1179.23 664.00 L1178.22 664.00 L1177.22 664.00 L1176.22 664.00 L1175.22 664.00 L1174.22 664.00 L1173.22 664.00 L1172.22 664.00 L1171.22 664.00 L1170.22 664.00 L1169.22 664.00 L1168.21 664.00 L1167.21 664.00 L1166.21 664.00 L1165.21 664.00 L1164.21 664.00 L1163.21 664.00 L1162.21 664.00 L1161.21 664.00 L1160.21 664.00 L1159.21 664.00 L1158.20 664.00 L1157.20 664.00 L1156.20 664.00 L1155.20 664.00 L1154.20 664.00 L1153.16 663.98 L1152.09 663.95 L1151.02 663.91 L1149.95 663.88 L1148.88 663.81 L1147.82 663.70 L1146.75 663.60 L1145.68 663.49 L1144.62 663.35 L1143.56 663.18" fill="none" stroke="#fcb900" stroke-width="14.3" />
<path d="M1123.31 656.49 L1122.84 656.23 L1122.37 655.98 L1121.90 655.73 L1121.42 655.48 L1120.95 655.22 L1120.50 654.94 L1120.04 654.66 L1119.59 654.38 L1119.13 654.09 L1118.68 653.81 L1118.22 653.53 L1117.77 653.24 L1117.31 652.96 L1116.87 652.65 L1116.44 652.34 L1116.00 652.03 L1115.57 651.71 L1115.13 651.40 L1114.70 651.09 L1114.26 650.78 L1113.83 650.46 L1113.41 650.12 L1113.00 649.78 L1112.58 649.44 L1112.17 649.11 L1111.76 648.77 L1111.34 648.43 L1110.93 648.09 L1110.51 647.75 L1110.12 647.38 L1109.73 647.01 L1109.34 646.65 L1108.95 646.28 L1108.56 645.91 L1108.17 645.55 L1107.78 645.18 L1107.38 644.82 L1107.02 644.42 L1106.65 644.03 L1106.29 643.64 L1105.92 643.25 L1105.55 642.86 L1105.19 642.47 L1104.82 642.08 L1104.45 641.69 L1104.11 641.27 L1103.77 640.86 L1103.43 640.44 L1103.09 640.03 L1102.76 639.62 L1102.42 639.20 L1102.08 638.79 L1101.74 638.37 L1101.42 637.94 L1101.11 637.50 L1100.80 637.07 L1100.49 636.63 L1100.17 636.20 L1099.86 635.76 L1099.55 635.33 L1099.24 634.89 L1098.96 634.43 L1098.67 633.98" fill="none" stroke="#fcb900" stroke-width="14.3" />
<path d="M1090.43 615.45 L1090.31 614.93 L1090.19 614.41 L1090.07 613.89 L1089.95 613.37 L1089.82 612.84 L1089.70 612.32 L1089.58 611.80 L1089.46 611.28 L1089.37 610.75 L1089.28 610.22 L1089.20 609.69 L1089.11 609.16 L1089.02 608.64 L1088.93 608.11 L1088.85 607.58 L1088.76 607.05 L1088.71 606.52 L1088.66 605.98 L1088.60 605.45 L1088.55 604.92 L1088.50 604.38 L1088.45 603.85 L1088.39 603.32 L1088.34 602.78 L1088.32 602.25 L1088.31 601.71 L1088.29 601.18 L1088.27 600.64 L1088.25 600.11 L1088.24 599.57 L1088.22 599.04 L1088.20 598.50 L1088.20 598.00 L1088.20 597.50 L1088.20 597.00 L1088.20 596.50 L1088.20 596.00 L1088.20 595.50 L1088.20 595.00 L1088.20 594.50 L1088.20 593.99 L1088.20 593.49 L1088.20 592.99 L1088.20 592.49 L1088.20 591.99 L1088.20 591.49 L1088.20 590.99 L1088.20 590.49 L1088.20 589.99 L1088.20 589.49 L1088.20 588.99 L1088.20 588.49 L1088.20 587.99 L1088.20 587.49 L1088.20 586.99 L1088.20 586.49 L1088.20 585.99 L1088.20 585.49 L1088.20 584.98 L1088.20 584.48 L1088.20 583.98 L1088.20 583.48 L1088.20 582.98 L1088.20 582.48 L1088.20 581.98 L1088.20 581.48 L1088.20 580.98 L1088.20 580.48 L1088.20 579.98 L1088.20 579.48 L1088.20 578.98" fill="none" stroke="#fcb900" stroke-width="14.3" />
<path d="M1088.20 556.95 L1088.20 555.95 L1088.20 554.95 L1088.20 553.95 L1088.20 552.95 L1088.20 551.95 L1088.20 550.95 L1088.20 549.94 L1088.20 548.94 L1088.20 547.94 L1088.20 546.94 L1088.20 545.94 L1088.20 544.94 L1088.20 543.94 L1088.20 542.94 L1088.20 541.94 L1088.20 540.93 L1088.20 539.93 L1088.20 538.93 L1088.20 537.93 L1088.20 536.93 L1088.20 535.93 L1088.20 534.93 L1088.20 533.93 L1088.20 532.93 L1088.20 531.92 L1088.20 530.92 L1088.20 529.92 L1088.20 528.92 L1088.20 527.92 L1088.20 526.92 L1088.20 525.92 L1088.20 524.92 L1088.20 523.91 L1088.20 522.91 L1088.20 521.91 L1088.20 520.91 L1088.20 519.91 L1088.20 518.91 L1088.20 517.91 L1088.20 517.41" fill="none" stroke="#fcb900" stroke-width="14.3" />
<path d="M1088.20 494.88 L1088.20 494.38 L1088.20 493.88 L1088.20 493.38 L1088.20 492.88 L1088.20 492.38 L1088.20 491.88 L1088.20 491.38 L1088.20 490.88 L1088.20 490.38 L1088.20 489.88 L1088.20 489.38 L1088.20 488.87 L1088.20 488.37 L1088.20 487.87 L1088.20 487.37 L1088.20 486.87 L1088.20 486.37 L1088.20 485.87 L1088.20 485.37 L1088.20 484.87 L1088.20 484.37 L1088.20 483.87 L1088.20 483.37 L1088.20 482.87 L1088.20 482.37 L1088.20 481.87 L1088.20 481.37 L1088.20 480.87 L1088.20 480.36 L1088.20 479.86 L1088.20 479.36 L1088.20 478.86 L1088.20 478.36 L1088.20 477.86 L1088.20 477.36 L1088.20 476.86 L1088.20 476.36 L1088.20 475.86 L1088.20 475.36 L1088.20 474.86 L1088.20 474.36 L1088.20 473.86 L1088.20 473.36 L1088.20 472.86 L1088.20 472.36 L1088.20 471.86 L1088.20 471.35 L1088.20 470.85 L1088.20 470.35 L1088.20 469.85 L1088.20 469.35 L1088.20 468.85 L1088.20 468.35 L1088.20 467.85 L1088.20 467.35 L1088.20 466.85 L1088.20 466.35 L1088.20 465.85 L1088.20 465.35 L1088.20 464.85 L1088.20 464.35 L1088.20 463.85 L1088.20 463.35 L1088.20 462.84 L1088.20 462.34 L1088.20 461.84 L1088.20 461.34 L1088.20 460.84 L1088.20 460.34 L1088.20 459.84 L1088.20 459.34 L1088.20 458.84 L1088.20 458.34 L1088.20 457.84 L1088.20 457.34 L1088.20 456.84 L1088.20 456.34 L1088.20 455.84" fill="none" stroke="#fcb900" stroke-width="14.3" />
<path d="M1088.20 432.81 L1088.20 431.81 L1088.20 430.81 L1088.20 429.81 L1088.20 428.81 L1088.20 427.80 L1088.20 426.80 L1088.20 425.80 L1088.20 424.80 L1088.20 423.80 L1088.20 422.80 L1088.20 421.80 L1088.20 420.80 L1088.20 419.80 L1088.20 418.79 L1088.20 417.79 L1088.20 416.79 L1088.20 415.79 L1088.20 414.79 L1088.20 413.79 L1088.20 412.79 L1088.20 411.79 L1088.20 410.79 L1088.20 409.78 L1088.20 408.78 L1088.20 407.78 L1088.20 406.78 L1088.20 405.78 L1088.20 404.78 L1088.20 403.78 L1088.20 402.78 L1088.20 401.78 L1088.20 400.77 L1088.20 399.77 L1088.20 398.77 L1088.20 397.77 L1088.20 396.77 L1088.20 395.77 L1088.20 394.77 L1088.20 393.77 L1088.20 392.76" fill="none" stroke="#fcb900" stroke-width="14.3" />
<path d="M1088.20 371.24 L1088.20 370.74 L1088.20 370.24 L1088.20 369.74 L1088.20 369.24 L1088.20 368.74 L1088.20 368.24 L1088.20 367.74 L1088.20 367.24 L1088.20 366.74 L1088.20 366.23 L1088.20 365.73 L1088.20 365.23 L1088.20 364.73 L1088.20 364.23 L1088.20 363.73 L1088.20 363.23 L1088.20 362.73 L1088.20 362.23 L1088.20 361.73 L1088.20 361.23 L1088.20 360.73 L1088.20 360.23 L1088.20 359.73 L1088.20 359.23 L1088.20 358.73 L1088.20 358.23 L1088.20 357.72 L1088.20 357.22 L1088.20 356.72 L1088.20 356.22 L1088.20 355.72 L1088.20 355.22 L1088.20 354.72 L1088.20 354.22 L1088.20 353.72 L1088.20 353.22 L1088.20 352.72 L1088.20 352.22 L1088.20 351.72 L1088.20 351.22 L1088.20 350.72 L1088.20 350.22 L1088.20 349.72 L1088.20 349.22 L1088.20 348.71 L1088.20 348.21 L1088.20 347.71 L1088.20 347.21 L1088.20 346.71 L1088.20 346.21 L1088.20 345.71 L1088.20 345.21 L1088.20 344.71 L1088.20 344.21 L1088.20 343.71 L1088.20 343.21 L1088.20 342.71 L1088.20 342.21 L1088.20 341.71 L1088.20 341.21 L1088.20 340.71 L1088.20 340.20 L1088.20 339.70 L1088.20 339.20 L1088.20 338.70 L1088.20 338.20 L1088.20 337.70 L1088.20 337.20 L1088.20 336.70 L1088.20 336.20 L1088.20 335.70 L1088.20 335.20 L1088.20 334.70 L1088.20 334.20 L1088.20 333.70 L1088.20 333.20 L1088.20 332.70 L1088.20 332.20" fill="none" stroke="#fcb900" stroke-width="14.3" />
<path d="M1088.20 309.67 L1088.20 308.67 L1088.20 307.67 L1088.20 306.67 L1088.20 305.67 L1088.20 304.66 L1088.20 303.66 L1088.20 302.66 L1088.20 301.66 L1088.20 300.66 L1088.20 299.66 L1088.20 298.66 L1088.20 297.66 L1088.20 296.65 L1088.20 295.65 L1088.20 294.65 L1088.20 293.65 L1088.20 292.65 L1088.20 291.65 L1088.20 290.65 L1088.20 289.65 L1088.20 288.65 L1088.20 287.64 L1088.20 286.64 L1088.20 285.64 L1088.20 284.64 L1088.20 283.64 L1088.20 282.64 L1088.20 281.64 L1088.20 280.64 L1088.20 279.64 L1088.20 278.63 L1088.20 277.63 L1088.20 276.63 L1088.20 275.63 L1088.20 274.63 L1088.20 273.63 L1088.20 272.63 L1088.20 271.63 L1088.20 270.63 L1088.20 269.62" fill="none" stroke="#fcb900" stroke-width="14.3" />
<path d="M1088.20 923.71 L1088.20 923.20 L1088.20 922.70 L1088.20 922.20 L1088.20 921.70 L1088.20 921.20 L1088.20 920.70 L1088.20 920.20 L1088.20 919.70 L1088.20 919.20 L1088.20 918.70 L1088.20 918.20 L1088.20 917.70 L1088.20 917.20 L1088.20 916.70 L1088.20 916.20 L1088.20 915.70 L1088.20 915.20 L1088.22 914.66 L1088.24 914.13 L1088.25 913.59 L1088.27 913.06 L1088.29 912.52 L1088.31 911.99 L1088.32 911.45 L1088.34 910.92 L1088.39 910.38 L1088.45 909.85 L1088.50 909.32 L1088.55 908.78 L1088.60 908.25 L1088.66 907.72 L1088.71 907.18 L1088.76 906.65 L1088.85 906.12 L1088.93 905.59 L1089.02 905.06 L1089.11 904.54 L1089.20 904.01 L1089.28 903.48 L1089.37 902.95 L1089.46 902.42 L1089.58 901.90 L1089.70 901.38 L1089.82 900.86 L1089.95 900.33 L1090.07 899.81 L1090.19 899.29 L1090.31 898.77 L1090.43 898.25 L1090.59 897.73 L1090.74 897.22 L1090.90 896.71 L1091.05 896.20 L1091.21 895.68 L1091.37 895.17 L1091.52 894.66 L1091.68 894.15 L1091.86 893.64 L1092.05 893.14 L1092.24 892.64 L1092.43 892.14 L1092.62 891.64 L1092.81 891.14 L1093.00 890.64 L1093.19 890.13 L1093.41 889.65 L1093.63 889.16 L1093.85 888.67 L1094.07 888.18 L1094.29 887.69 L1094.51 887.21 L1094.73 886.72 L1094.95 886.23" fill="none" stroke="#fcb900" stroke-width="14.3" />
<path d="M1108.95 867.42 L1109.34 867.05 L1109.73 866.69 L1110.12 866.32 L1110.51 865.95 L1110.93 865.61 L1111.34 865.27 L1111.76 864.93 L1112.17 864.59 L1112.58 864.26 L1113.00 863.92 L1113.41 863.58 L1113.83 863.24 L1114.26 862.92 L1114.70 862.61 L1115.13 862.30 L1115.57 861.99 L1116.00 861.67 L1116.44 861.36 L1116.87 861.05 L1117.31 860.74 L1117.77 860.46 L1118.22 860.17 L1118.68 859.89 L1119.13 859.61 L1119.59 859.32 L1120.04 859.04 L1120.50 858.76 L1120.95 858.48 L1121.42 858.22 L1121.90 857.97 L1122.37 857.72 L1122.84 857.47 L1123.31 857.21 L1123.79 856.96 L1124.26 856.71 L1124.73 856.45 L1125.22 856.23 L1125.71 856.01 L1126.19 855.79 L1126.68 855.57 L1127.17 855.35 L1127.66 855.13 L1128.15 854.91 L1128.63 854.69 L1129.14 854.50 L1129.64 854.31 L1130.14 854.12 L1130.64 853.93 L1131.14 853.74 L1131.64 853.55 L1132.14 853.36 L1132.65 853.18 L1133.16 853.02 L1133.67 852.87 L1134.18 852.71 L1134.70 852.55 L1135.21 852.40 L1135.72 852.24 L1136.23 852.09 L1136.75 851.93 L1137.27 851.81 L1137.79 851.69 L1138.31 851.57 L1138.83 851.45 L1139.36 851.32 L1139.88 851.20 L1140.40 851.08 L1140.92 850.96 L1141.45 850.87 L1141.98 850.78 L1142.51 850.70 L1143.04 850.61 L1143.56 850.52" fill="none" stroke="#fcb900" stroke-width="14.3" />
<path d="M1163.21 849.70 L1164.21 849.70 L1165.21 849.70 L1166.21 849.70 L1167.21 849.70 L1168.21 849.70 L1169.22 849.70 L1170.22 849.70 L1171.22 849.70 L1172.22 849.70 L1173.22 849.70 L1174.22 849.70 L1175.22 849.70 L1176.22 849.70 L1177.22 849.70 L1178.22 849.70 L1179.23 849.70 L1180.23 849.70 L1181.23 849.70 L1182.23 849.70 L1183.23 849.70 L1184.23 849.70 L1185.23 849.70 L1186.23 849.70 L1187.23 849.70 L1188.23 849.70 L1189.24 849.70 L1190.24 849.70 L1191.24 849.70 L1192.24 849.70 L1193.24 849.70 L1194.24 849.70 L1195.24 849.70 L1196.24 849.70 L1197.24 849.70 L1198.24 849.70 L1199.25 849.70 L1200.25 849.70 L1201.25 849.70 L1202.25 849.70 L1203.25 849.70 L1204.25 849.70 L1205.25 849.70 L1205.75 849.70" fill="none" stroke="#fcb900" stroke-width="14.3" />
<path d="M1225.77 849.70 L1226.77 849.70 L1227.77 849.70 L1228.77 849.70 L1229.78 849.70 L1230.78 849.70 L1231.78 849.70 L1232.78 849.70 L1233.78 849.70 L1234.78 849.70 L1235.78 849.70 L1236.78 849.70 L1237.78 849.70 L1238.78 849.70 L1239.79 849.70 L1240.79 849.70 L1241.79 849.70 L1242.79 849.70 L1243.79 849.70 L1244.79 849.70 L1245.79 849.70 L1246.79 849.70 L1247.79 849.70 L1248.79 849.70 L1249.80 849.70 L1250.80 849.70 L1251.80 849.70 L1252.80 849.70 L1253.80 849.70 L1254.80 849.70 L1255.80 849.70 L1256.80 849.70 L1257.80 849.70 L1258.80 849.70 L1259.81 849.70 L1260.81 849.70 L1261.81 849.70 L1262.81 849.70 L1263.81 849.70 L1264.81 849.70 L1265.81 849.70 L1266.31 849.70" fill="none" stroke="#fcb900" stroke-width="14.3" />
<path d="M1325.37 849.70 L1326.37 849.70 L1327.37 849.70 L1328.37 849.70 L1329.37 849.70 L1330.37 849.70 L1331.38 849.70 L1332.38 849.70 L1333.38 849.70 L1334.38 849.70 L1335.38 849.70 L1336.38 849.70 L1337.38 849.70 L1338.38 849.70 L1339.38 849.70 L1340.38 849.70 L1341.39 849.70 L1342.39 849.70 L1343.39 849.70 L1344.39 849.70 L1345.39 849.70 L1346.39 849.70 L1347.39 849.70 L1348.39 849.70 L1349.39 849.70 L1350.39 849.70 L1351.40 849.70 L1352.40 849.70 L1353.40 849.70 L1354.40 849.70 L1355.40 849.70 L1356.40 849.70 L1357.40 849.70 L1358.40 849.70 L1359.40 849.70 L1360.40 849.70 L1361.41 849.70 L1362.41 849.70 L1363.41 849.70 L1364.41 849.70 L1365.41 849.70" fill="none" stroke="#fcb900" stroke-width="14.3" />
<path d="M1384.93 849.70 L1385.93 849.70 L1386.93 849.70 L1387.93 849.70 L1388.93 849.70 L1389.93 849.70 L1390.93 849.70 L1391.94 849.70 L1392.94 849.70 L1393.94 849.70 L1394.94 849.70 L1395.94 849.70 L1396.94 849.70 L1397.94 849.70 L1398.94 849.70 L1399.94 849.70 L1400.94 849.70 L1401.95 849.70 L1402.95 849.70 L1403.95 849.70 L1404.95 849.70 L1405.95 849.70 L1406.95 849.70 L1407.95 849.70 L1408.95 849.70 L1409.95 849.70 L1410.95 849.70 L1411.96 849.70 L1412.96 849.70 L1413.96 849.70 L1414.96 849.70 L1415.96 849.70 L1416.96 849.70 L1417.96 849.70 L1418.96 849.70 L1419.96 849.70 L1420.96 849.70 L1421.97 849.70 L1422.97 849.70 L1423.97 849.70 L1424.97 849.70 L1425.97 849.70 L1426.97 849.70" fill="none" stroke="#fcb900" stroke-width="14.3" />
<path d="M1447.99 849.70 L1448.99 849.70 L1449.99 849.70 L1450.99 849.70 L1452.00 849.70 L1453.00 849.70 L1454.00 849.70 L1455.00 849.70 L1456.00 849.70 L1457.00 849.70 L1458.00 849.70 L1459.00 849.70 L1460.00 849.70 L1461.00 849.70 L1462.01 849.70 L1463.01 849.70 L1464.01 849.70 L1465.01 849.70 L1466.01 849.70 L1467.01 849.70 L1468.01 849.70 L1469.01 849.70 L1470.01 849.70 L1471.01 849.70 L1472.02 849.70 L1473.02 849.70 L1474.02 849.70 L1475.02 849.70 L1476.02 849.70 L1477.02 849.70 L1478.02 849.70 L1479.02 849.70 L1480.02 849.70 L1481.02 849.70 L1482.03 849.70 L1483.03 849.70 L1484.03 849.70 L1485.03 849.70 L1486.03 849.70 L1487.03 849.70 L1488.03 849.70 L1489.03 849.70 L1489.53 849.70" fill="none" stroke="#fcb900" stroke-width="14.3" />
<path d="M1510.05 849.70 L1511.05 849.70 L1512.05 849.70 L1513.06 849.70 L1514.06 849.70 L1515.06 849.70 L1516.06 849.70 L1517.06 849.70 L1518.06 849.70 L1519.06 849.70 L1520.06 849.70 L1521.06 849.70 L1522.06 849.70 L1523.07 849.70 L1524.07 849.70 L1525.07 849.70 L1526.07 849.70 L1527.07 849.70 L1528.07 849.70 L1529.07 849.70 L1530.07 849.70 L1531.07 849.70 L1532.07 849.70 L1533.08 849.70 L1534.08 849.70 L1535.08 849.70 L1536.08 849.70 L1537.08 849.70 L1538.08 849.70 L1539.08 849.70 L1540.08 849.70 L1541.08 849.70 L1542.08 849.70 L1543.09 849.70 L1544.09 849.70 L1545.09 849.70 L1546.09 849.70 L1547.09 849.70 L1548.09 849.70 L1549.09 849.70 L1550.09 849.70 L1551.09 849.70 L1552.09 849.70" fill="none" stroke="#fcb900" stroke-width="14.3" />
<path d="M1570.38 850.96 L1570.90 851.08 L1571.42 851.20 L1571.94 851.32 L1572.47 851.45 L1572.99 851.57 L1573.51 851.69 L1574.03 851.81 L1574.55 851.93 L1575.07 852.09 L1575.58 852.24 L1576.09 852.40 L1576.60 852.55 L1577.12 852.71 L1577.63 852.87 L1578.14 853.02 L1578.65 853.18 L1579.16 853.36 L1579.66 853.55 L1580.16 853.74 L1580.66 853.93 L1581.16 854.12 L1581.66 854.31 L1582.16 854.50 L1582.67 854.69 L1583.15 854.91 L1583.64 855.13 L1584.13 855.35 L1584.62 855.57 L1585.11 855.79 L1585.59 856.01 L1586.08 856.23 L1586.57 856.45 L1587.04 856.71 L1587.51 856.96 L1587.99 857.21 L1588.46 857.47 L1588.93 857.72 L1589.40 857.97 L1589.88 858.22 L1590.35 858.48 L1590.80 858.76 L1591.26 859.04 L1591.71 859.32 L1592.17 859.61 L1592.62 859.89 L1593.08 860.17 L1593.53 860.46 L1593.99 860.74 L1594.43 861.05 L1594.86 861.36 L1595.30 861.67 L1595.73 861.99 L1596.17 862.30 L1596.60 862.61 L1597.04 862.92 L1597.47 863.24 L1597.89 863.58 L1598.30 863.92 L1598.72 864.26 L1599.13 864.59 L1599.54 864.93 L1599.96 865.27 L1600.37 865.61 L1600.79 865.95 L1601.18 866.32 L1601.57 866.69 L1601.96 867.05 L1602.35 867.42 L1602.74 867.79 L1603.13 868.15 L1603.52 868.52 L1603.92 868.88 L1604.28 869.28 L1604.65 869.67" fill="none" stroke="#fcb900" stroke-width="14.3" />
<path d="M1616.57 886.72 L1616.79 887.21 L1617.01 887.69 L1617.23 888.18 L1617.45 888.67 L1617.67 889.16 L1617.89 889.65 L1618.11 890.13 L1618.30 890.64 L1618.49 891.14 L1618.68 891.64 L1618.87 892.14 L1619.06 892.64 L1619.25 893.14 L1619.44 893.64 L1619.62 894.15 L1619.78 894.66 L1619.93 895.17 L1620.09 895.68 L1620.25 896.20 L1620.40 896.71 L1620.56 897.22 L1620.71 897.73 L1620.87 898.25 L1620.99 898.77 L1621.11 899.29 L1621.23 899.81 L1621.35 900.33 L1621.48 900.86 L1621.60 901.38 L1621.72 901.90 L1621.84 902.42 L1621.93 902.95 L1622.02 903.48 L1622.10 904.01 L1622.19 904.54 L1622.28 905.06" fill="none" stroke="#fcb900" stroke-width="14.3" />
<path d="M1623.10 925.71 L1623.10 926.71 L1623.10 927.71 L1623.10 928.71 L1623.10 929.71 L1623.10 930.71 L1623.10 931.71 L1623.10 932.71 L1623.10 933.71 L1623.10 934.71 L1623.10 935.71 L1623.10 936.71 L1623.10 937.71 L1623.10 938.71 L1623.10 939.72 L1623.10 940.72 L1623.10 941.72 L1623.10 942.72 L1623.10 943.72 L1623.10 944.72 L1623.10 945.72 L1623.10 946.72 L1623.10 947.72 L1623.10 948.72 L1623.10 949.72 L1623.10 950.72 L1623.10 951.72 L1623.10 952.72 L1623.10 953.72 L1623.10 954.72 L1623.10 955.73 L1623.10 956.73 L1623.10 957.73 L1623.10 958.73 L1623.10 959.73 L1623.10 960.73 L1623.10 961.73 L1623.10 962.73 L1623.10 963.73 L1623.10 964.73 L1623.10 965.73" fill="none" stroke="#fcb900" stroke-width="14.3" />
<path d="M1623.10 987.75 L1623.10 988.75 L1623.10 989.75 L1623.10 990.75 L1623.10 991.75 L1623.10 992.75 L1623.10 993.75 L1623.10 994.75 L1623.10 995.75 L1623.10 996.75 L1623.10 997.75 L1623.10 998.75 L1623.10 999.75 L1623.10 1000.75 L1623.10 1001.75 L1623.10 1002.75 L1623.10 1003.75 L1623.10 1004.76 L1623.10 1005.76 L1623.10 1006.76 L1623.10 1007.76 L1623.10 1008.76 L1623.10 1009.76 L1623.10 1010.76 L1623.10 1011.76 L1623.10 1012.76 L1623.10 1013.76 L1623.10 1014.76 L1623.10 1015.76 L1623.10 1016.76 L1623.10 1017.76 L1623.10 1018.76 L1623.10 1019.76 L1623.10 1020.77 L1623.10 1021.77 L1623.10 1022.77 L1623.10 1023.77 L1623.10 1024.77 L1623.10 1025.77 L1623.10 1026.77 L1623.10 1027.27" fill="none" stroke="#fcb900" stroke-width="14.3" />
<path d="M1623.10 1049.28 L1623.10 1050.28 L1623.10 1051.28 L1623.10 1052.29 L1623.10 1053.29 L1623.10 1054.29 L1623.10 1055.29 L1623.10 1056.29 L1623.10 1057.29 L1623.10 1058.29 L1623.10 1059.29 L1623.10 1060.29 L1623.10 1061.29 L1623.10 1062.29 L1623.10 1063.29 L1623.10 1064.29 L1623.10 1065.29 L1623.10 1066.29 L1623.10 1067.29 L1623.10 1068.30 L1623.10 1069.30 L1623.10 1070.30 L1623.10 1071.30 L1623.10 1072.30 L1623.10 1073.30 L1623.10 1074.30 L1623.10 1075.30 L1623.10 1076.30 L1623.10 1077.30 L1623.10 1078.30 L1623.10 1079.30 L1623.10 1080.30 L1623.10 1081.30 L1623.10 1082.30 L1623.10 1083.30 L1623.10 1084.30 L1623.10 1085.31 L1623.10 1086.31 L1623.10 1087.31 L1623.10 1088.31 L1623.10 1089.31" fill="none" stroke="#fcb900" stroke-width="14.3" />
<path d="M1623.10 1110.82 L1623.10 1111.82 L1623.10 1112.82 L1623.10 1113.82 L1623.10 1114.82 L1623.10 1115.82 L1623.10 1116.83 L1623.10 1117.83 L1623.10 1118.83 L1623.10 1119.83 L1623.10 1120.83 L1623.10 1121.83 L1623.10 1122.83 L1623.10 1123.83 L1623.10 1124.83 L1623.10 1125.83 L1623.10 1126.83 L1623.10 1127.83 L1623.10 1128.83 L1623.10 1129.83 L1623.10 1130.83 L1623.10 1131.83 L1623.10 1132.84 L1623.10 1133.84 L1623.10 1134.84 L1623.10 1135.84 L1623.10 1136.84 L1623.10 1137.84 L1623.10 1138.84 L1623.10 1139.84 L1623.10 1140.84 L1623.10 1141.84 L1623.10 1142.84 L1623.10 1143.84 L1623.10 1144.84 L1623.10 1145.84 L1623.10 1146.84 L1623.10 1147.84 L1623.10 1148.85 L1623.10 1149.85 L1623.10 1150.85 L1623.10 1151.85" fill="none" stroke="#fcb900" stroke-width="14.3" />
<path d="M1623.10 1172.86 L1623.10 1173.86 L1623.10 1174.86 L1623.10 1175.86 L1623.10 1176.86 L1623.10 1177.86 L1623.10 1178.86 L1623.10 1179.86 L1623.10 1180.86 L1623.10 1181.87 L1623.10 1182.87 L1623.10 1183.87 L1623.10 1184.87 L1623.10 1185.87 L1623.10 1186.87 L1623.10 1187.87 L1623.10 1188.87 L1623.10 1189.87 L1623.10 1190.87 L1623.10 1191.87 L1623.10 1192.87 L1623.10 1193.87 L1623.10 1194.87 L1623.10 1195.87 L1623.10 1196.87 L1623.10 1197.88 L1623.10 1198.88 L1623.10 1199.88 L1623.10 1200.88 L1623.10 1201.88 L1623.10 1202.88 L1623.10 1203.88 L1623.10 1204.88 L1623.10 1205.88 L1623.10 1206.88 L1623.10 1207.88 L1623.10 1208.88 L1623.10 1209.88 L1623.10 1210.88 L1623.10 1211.88 L1623.10 1212.88 L1623.10 1213.89" fill="none" stroke="#fcb900" stroke-width="14.3" />
<path d="M1623.10 1235.90 L1623.10 1236.90 L1623.10 1237.90 L1623.10 1238.90 L1623.10 1239.90 L1623.10 1240.90 L1623.10 1241.90 L1623.10 1242.90 L1623.10 1243.90 L1623.10 1244.90 L1623.10 1245.91 L1623.10 1246.91 L1623.10 1247.91 L1623.10 1248.91 L1623.10 1249.91 L1623.10 1250.91 L1623.10 1251.91 L1623.10 1252.91 L1623.10 1253.91 L1623.10 1254.91 L1623.10 1255.91 L1623.10 1256.91 L1623.10 1257.91 L1623.10 1258.91 L1623.10 1259.91 L1623.10 1260.91 L1623.10 1261.92 L1623.10 1262.92 L1623.10 1263.92 L1623.10 1264.92 L1623.10 1265.92 L1623.10 1266.92 L1623.10 1267.92 L1623.10 1268.92 L1623.10 1269.92 L1623.10 1270.92 L1623.10 1271.92 L1623.10 1272.92 L1623.10 1273.92 L1623.10 1274.92 L1623.10 1275.92" fill="none" stroke="#fcb900" stroke-width="14.3" />
<path d="M1623.10 1297.44 L1623.10 1298.44 L1623.10 1299.44 L1623.10 1300.44 L1623.10 1301.44 L1623.10 1302.44 L1623.10 1303.44 L1623.10 1304.44 L1623.10 1305.44 L1623.10 1306.44 L1623.10 1307.44 L1623.10 1308.44 L1623.10 1309.44 L1623.10 1310.45 L1623.10 1311.45 L1623.10 1312.45 L1623.10 1313.45 L1623.10 1314.45 L1623.10 1315.45 L1623.10 1316.45 L1623.10 1317.45 L1623.10 1318.45 L1623.10 1319.45 L1623.10 1320.45 L1623.10 1321.45 L1623.10 1322.45 L1623.10 1323.45 L1623.10 1324.45 L1623.10 1325.45 L1623.10 1326.46 L1623.10 1327.46 L1623.10 1328.46 L1623.10 1329.46 L1623.10 1330.46 L1623.10 1331.46 L1623.10 1332.46 L1623.10 1333.46 L1623.10 1334.46 L1623.10 1335.46 L1623.10 1336.46 L1623.10 1337.46 L1623.10 1338.46 L1623.10 1338.96" fill="none" stroke="#fcb900" stroke-width="14.3" />
<path d="M1623.10 1359.98 L1623.10 1360.98 L1623.10 1361.98 L1623.10 1362.98 L1623.10 1363.98 L1623.10 1364.98 L1623.10 1365.98 L1623.10 1366.98 L1623.10 1367.98 L1623.10 1368.98 L1623.10 1369.98 L1623.10 1370.98 L1623.10 1371.98 L1623.10 1372.98 L1623.10 1373.98 L1623.10 1374.99 L1623.10 1375.99 L1623.10 1376.99 L1623.10 1377.99 L1623.10 1378.99 L1623.10 1379.99 L1623.10 1380.99 L1623.10 1381.99 L1623.10 1382.99 L1623.10 1383.99 L1623.10 1384.99 L1623.10 1385.99 L1623.10 1386.99 L1623.10 1387.99 L1623.10 1388.99 L1623.10 1389.99 L1623.10 1391.00 L1623.10 1392.00 L1623.10 1393.00 L1623.10 1394.00 L1623.10 1395.00 L1623.10 1396.00 L1623.10 1397.00 L1623.10 1398.00 L1623.08 1399.04 L1623.05 1400.11 L1623.01 1401.18" fill="none" stroke="#fcb900" stroke-width="14.3" />
<path d="M1618.68 1422.06 L1618.30 1423.06 L1617.89 1424.05 L1617.45 1425.03 L1617.01 1426.01 L1616.57 1426.98 L1616.09 1427.94 L1615.59 1428.89 L1615.08 1429.83 L1614.58 1430.78 L1614.04 1431.70 L1613.48 1432.61 L1612.91 1433.52 L1612.34 1434.43 L1611.75 1435.33 L1611.13 1436.20 L1610.50 1437.07 L1609.88 1437.94 L1609.22 1438.79 L1608.54 1439.62 L1607.87 1440.44 L1607.19 1441.27 L1606.48 1442.08 L1605.75 1442.86 L1605.01 1443.64 L1604.28 1444.42 L1603.52 1445.18 L1602.74 1445.91 L1601.96 1446.65 L1601.18 1447.38 L1600.37 1448.09 L1599.54 1448.77 L1598.72 1449.44 L1597.89 1450.12 L1597.04 1450.78 L1596.17 1451.40 L1595.30 1452.03 L1594.43 1452.65 L1593.53 1453.24 L1592.62 1453.81 L1592.17 1454.09" fill="none" stroke="#fcb900" stroke-width="14.3" />
<path d="M1571.94 1462.38 L1570.90 1462.62 L1569.85 1462.83 L1568.79 1463.00 L1567.74 1463.18 L1566.68 1463.35 L1565.62 1463.49 L1564.55 1463.60 L1563.48 1463.70 L1562.42 1463.81 L1561.35 1463.88 L1560.28 1463.91 L1559.21 1463.95 L1558.14 1463.98 L1557.10 1464.00 L1556.10 1464.00 L1555.10 1464.00 L1554.10 1464.00 L1553.10 1464.00 L1552.09 1464.00 L1551.09 1464.00 L1550.09 1464.00 L1549.09 1464.00 L1548.09 1464.00 L1547.09 1464.00 L1546.09 1464.00 L1545.09 1464.00 L1544.09 1464.00 L1543.09 1464.00 L1542.08 1464.00 L1541.08 1464.00 L1540.08 1464.00 L1539.08 1464.00 L1538.08 1464.00 L1537.08 1464.00 L1536.08 1464.00 L1535.08 1464.00 L1534.08 1464.00 L1533.08 1464.00 L1532.07 1464.00 L1531.07 1464.00 L1530.57 1464.00" fill="none" stroke="#fcb900" stroke-width="14.3" />
<path d="M1509.55 1464.00 L1508.55 1464.00 L1507.55 1464.00 L1506.55 1464.00 L1505.55 1464.00 L1504.55 1464.00 L1503.55 1464.00 L1502.55 1464.00 L1501.54 1464.00 L1500.54 1464.00 L1499.54 1464.00 L1498.54 1464.00 L1497.54 1464.00 L1496.54 1464.00 L1495.54 1464.00 L1494.54 1464.00 L1493.54 1464.00 L1492.54 1464.00 L1491.53 1464.00 L1490.53 1464.00 L1489.53 1464.00 L1488.53 1464.00 L1487.53 1464.00 L1486.53 1464.00 L1485.53 1464.00 L1484.53 1464.00 L1483.53 1464.00 L1482.53 1464.00 L1481.52 1464.00 L1480.52 1464.00 L1479.52 1464.00 L1478.52 1464.00 L1477.52 1464.00 L1476.52 1464.00 L1475.52 1464.00 L1474.52 1464.00 L1473.52 1464.00 L1472.52 1464.00 L1471.51 1464.00 L1470.51 1464.00 L1469.51 1464.00 L1468.51 1464.00 L1467.51 1464.00" fill="none" stroke="#fcb900" stroke-width="14.3" />
<path d="M1446.99 1464.00 L1445.99 1464.00 L1444.99 1464.00 L1443.99 1464.00 L1442.99 1464.00 L1441.99 1464.00 L1440.98 1464.00 L1439.98 1464.00 L1438.98 1464.00 L1437.98 1464.00 L1436.98 1464.00 L1435.98 1464.00 L1434.98 1464.00 L1433.98 1464.00 L1432.98 1464.00 L1431.98 1464.00 L1430.97 1464.00 L1429.97 1464.00 L1428.97 1464.00 L1427.97 1464.00 L1426.97 1464.00 L1425.97 1464.00 L1424.97 1464.00 L1423.97 1464.00 L1422.97 1464.00 L1421.97 1464.00 L1420.96 1464.00 L1419.96 1464.00 L1418.96 1464.00 L1417.96 1464.00 L1416.96 1464.00 L1415.96 1464.00 L1414.96 1464.00 L1413.96 1464.00 L1412.96 1464.00 L1411.96 1464.00 L1410.95 1464.00 L1409.95 1464.00 L1408.95 1464.00 L1407.95 1464.00 L1406.95 1464.00 L1405.95 1464.00 L1404.95 1464.00" fill="none" stroke="#fcb900" stroke-width="14.3" />
<path d="M1383.93 1464.00 L1382.93 1464.00 L1381.93 1464.00 L1380.93 1464.00 L1379.92 1464.00 L1378.92 1464.00 L1377.92 1464.00 L1376.92 1464.00 L1375.92 1464.00 L1374.92 1464.00 L1373.92 1464.00 L1372.92 1464.00 L1371.92 1464.00 L1370.92 1464.00 L1369.91 1464.00 L1368.91 1464.00 L1367.91 1464.00 L1366.91 1464.00 L1365.91 1464.00 L1364.91 1464.00 L1363.91 1464.00 L1362.91 1464.00 L1361.91 1464.00 L1360.91 1464.00 L1359.90 1464.00 L1358.90 1464.00 L1357.90 1464.00 L1356.90 1464.00 L1355.90 1464.00 L1354.90 1464.00 L1353.90 1464.00 L1352.90 1464.00 L1351.90 1464.00 L1350.90 1464.00 L1349.89 1464.00 L1348.89 1464.00 L1347.89 1464.00 L1346.89 1464.00 L1345.89 1464.00 L1344.89 1464.00 L1343.89 1464.00 L1342.89 1464.00 L1341.89 1464.00" fill="none" stroke="#fcb900" stroke-width="14.3" />
<path d="M1320.37 1464.00 L1319.36 1464.00 L1318.36 1464.00 L1317.36 1464.00 L1316.36 1464.00 L1315.36 1464.00 L1314.36 1464.00 L1313.36 1464.00 L1312.36 1464.00 L1311.36 1464.00 L1310.36 1464.00 L1309.35 1464.00 L1308.35 1464.00 L1307.35 1464.00 L1306.35 1464.00 L1305.35 1464.00 L1304.35 1464.00 L1303.35 1464.00 L1302.35 1464.00 L1301.35 1464.00 L1300.35 1464.00 L1299.34 1464.00 L1298.34 1464.00 L1297.34 1464.00 L1296.34 1464.00 L1295.34 1464.00 L1294.34 1464.00 L1293.34 1464.00 L1292.34 1464.00 L1291.34 1464.00 L1290.34 1464.00 L1289.33 1464.00 L1288.33 1464.00 L1287.33 1464.00 L1286.33 1464.00 L1285.33 1464.00 L1284.33 1464.00 L1283.33 1464.00 L1282.33 1464.00 L1281.33 1464.00 L1280.33 1464.00 L1279.32 1464.00 L1278.32 1464.00 L1277.82 1464.00" fill="none" stroke="#fcb900" stroke-width="14.3" />
<path d="M1257.30 1464.00 L1256.30 1464.00 L1255.30 1464.00 L1254.30 1464.00 L1253.30 1464.00 L1252.30 1464.00 L1251.30 1464.00 L1250.30 1464.00 L1249.29 1464.00 L1248.29 1464.00 L1247.29 1464.00 L1246.29 1464.00 L1245.29 1464.00 L1244.29 1464.00 L1243.29 1464.00 L1242.29 1464.00 L1241.29 1464.00 L1240.29 1464.00 L1239.28 1464.00 L1238.28 1464.00 L1237.28 1464.00 L1236.28 1464.00 L1235.28 1464.00 L1234.28 1464.00 L1233.28 1464.00 L1232.28 1464.00 L1231.28 1464.00 L1230.28 1464.00 L1229.27 1464.00 L1228.27 1464.00 L1227.27 1464.00 L1226.27 1464.00 L1225.27 1464.00 L1224.27 1464.00 L1223.27 1464.00 L1222.27 1464.00 L1221.27 1464.00 L1220.27 1464.00 L1219.26 1464.00 L1218.26 1464.00 L1217.26 1464.00 L1216.26 1464.00 L1215.26 1464.00" fill="none" stroke="#fcb900" stroke-width="14.3" />
<path d="M1194.24 1464.00 L1193.24 1464.00 L1192.24 1464.00 L1191.24 1464.00 L1190.24 1464.00 L1189.24 1464.00 L1188.23 1464.00 L1187.23 1464.00 L1186.23 1464.00 L1185.23 1464.00 L1184.23 1464.00 L1183.23 1464.00 L1182.23 1464.00 L1181.23 1464.00 L1180.23 1464.00 L1179.23 1464.00 L1178.22 1464.00 L1177.22 1464.00 L1176.22 1464.00 L1175.22 1464.00 L1174.22 1464.00 L1173.22 1464.00 L1172.22 1464.00 L1171.22 1464.00 L1170.22 1464.00 L1169.22 1464.00 L1168.21 1464.00 L1167.21 1464.00 L1166.21 1464.00 L1165.21 1464.00 L1164.21 1464.00 L1163.21 1464.00 L1162.21 1464.00 L1161.21 1464.00 L1160.21 1464.00 L1159.21 1464.00 L1158.20 1464.00 L1157.20 1464.00 L1156.20 1464.00 L1155.20 1464.00 L1154.20 1464.00 L1153.16 1463.98 L1152.63 1463.96" fill="none" stroke="#fcb900" stroke-width="14.3" />
<path d="M1133.16 1460.68 L1132.65 1460.52 L1132.14 1460.34 L1131.64 1460.15 L1131.14 1459.96 L1130.64 1459.77 L1130.14 1459.58 L1129.64 1459.39 L1129.14 1459.20 L1128.63 1459.01 L1128.15 1458.79 L1127.66 1458.57 L1127.17 1458.35 L1126.68 1458.13 L1126.19 1457.91 L1125.71 1457.69 L1125.22 1457.47 L1124.73 1457.25 L1124.26 1456.99 L1123.79 1456.74 L1123.31 1456.49 L1122.84 1456.23 L1122.37 1455.98 L1121.90 1455.73 L1121.42 1455.48 L1120.95 1455.22 L1120.50 1454.94 L1120.04 1454.66 L1119.59 1454.38 L1119.13 1454.09 L1118.68 1453.81 L1118.22 1453.53 L1117.77 1453.24 L1117.31 1452.96 L1116.87 1452.65 L1116.44 1452.34 L1116.00 1452.03 L1115.57 1451.71 L1115.13 1451.40 L1114.70 1451.09 L1114.26 1450.78 L1113.83 1450.46 L1113.41 1450.12 L1113.00 1449.78 L1112.58 1449.44 L1112.17 1449.11 L1111.76 1448.77 L1111.34 1448.43 L1110.93 1448.09 L1110.51 1447.75 L1110.12 1447.38 L1109.73 1447.01 L1109.34 1446.65 L1108.95 1446.28 L1108.56 1445.91 L1108.17 1445.55 L1107.78 1445.18 L1107.38 1444.82 L1107.02 1444.42 L1106.65 1444.03 L1106.29 1443.64 L1105.92 1443.25 L1105.55 1442.86 L1105.19 1442.47 L1104.82 1442.08 L1104.45 1441.69 L1104.11 1441.27 L1103.77 1440.86 L1103.43 1440.44 L1103.09 1440.03 L1102.76 1439.62 L1102.42 1439.20 L1102.08 1438.79 L1101.74 1438.37 L1101.42 1437.94 L1101.11 1437.50" fill="none" stroke="#fcb900" stroke-width="14.3" />
<path d="M1091.21 1418.02 L1091.05 1417.50 L1090.90 1416.99 L1090.74 1416.48 L1090.59 1415.97 L1090.43 1415.45 L1090.31 1414.93 L1090.19 1414.41 L1090.07 1413.89 L1089.95 1413.37 L1089.82 1412.84 L1089.70 1412.32 L1089.58 1411.80 L1089.46 1411.28 L1089.37 1410.75 L1089.28 1410.22 L1089.20 1409.69 L1089.11 1409.16 L1089.02 1408.64 L1088.93 1408.11 L1088.85 1407.58 L1088.76 1407.05 L1088.71 1406.52 L1088.66 1405.98 L1088.60 1405.45 L1088.55 1404.92 L1088.50 1404.38 L1088.45 1403.85 L1088.39 1403.32 L1088.34 1402.78 L1088.32 1402.25 L1088.31 1401.71 L1088.29 1401.18 L1088.27 1400.64 L1088.25 1400.11 L1088.24 1399.57 L1088.22 1399.04 L1088.20 1398.50 L1088.20 1398.00 L1088.20 1397.50 L1088.20 1397.00 L1088.20 1396.50 L1088.20 1396.00 L1088.20 1395.50 L1088.20 1395.00 L1088.20 1394.50 L1088.20 1394.00 L1088.20 1393.50 L1088.20 1393.00 L1088.20 1392.50 L1088.20 1392.00 L1088.20 1391.50 L1088.20 1391.00 L1088.20 1390.50 L1088.20 1389.99 L1088.20 1389.49 L1088.20 1388.99 L1088.20 1388.49 L1088.20 1387.99 L1088.20 1387.49 L1088.20 1386.99 L1088.20 1386.49 L1088.20 1385.99 L1088.20 1385.49 L1088.20 1384.99 L1088.20 1384.49 L1088.20 1383.99 L1088.20 1383.49 L1088.20 1382.99 L1088.20 1382.49 L1088.20 1381.99 L1088.20 1381.49 L1088.20 1380.99 L1088.20 1380.49" fill="none" stroke="#fcb900" stroke-width="14.3" />
<path d="M1088.20 1358.98 L1088.20 1357.97 L1088.20 1356.97 L1088.20 1355.97 L1088.20 1354.97 L1088.20 1353.97 L1088.20 1352.97 L1088.20 1351.97 L1088.20 1350.97 L1088.20 1349.97 L1088.20 1348.97 L1088.20 1347.97 L1088.20 1346.97 L1088.20 1345.97 L1088.20 1344.97 L1088.20 1343.97 L1088.20 1342.97 L1088.20 1341.96 L1088.20 1340.96 L1088.20 1339.96 L1088.20 1338.96 L1088.20 1337.96 L1088.20 1336.96 L1088.20 1335.96 L1088.20 1334.96 L1088.20 1333.96 L1088.20 1332.96 L1088.20 1331.96 L1088.20 1330.96 L1088.20 1329.96 L1088.20 1328.96 L1088.20 1327.96 L1088.20 1326.96 L1088.20 1325.95 L1088.20 1324.95 L1088.20 1323.95 L1088.20 1322.95 L1088.20 1321.95 L1088.20 1320.95 L1088.20 1319.95 L1088.20 1318.95" fill="none" stroke="#fcb900" stroke-width="14.3" />
<path d="M1088.20 1295.94 L1088.20 1294.94 L1088.20 1293.94 L1088.20 1292.93 L1088.20 1291.93 L1088.20 1290.93 L1088.20 1289.93 L1088.20 1288.93 L1088.20 1287.93 L1088.20 1286.93 L1088.20 1285.93 L1088.20 1284.93 L1088.20 1283.93 L1088.20 1282.93 L1088.20 1281.93 L1088.20 1280.93 L1088.20 1279.93 L1088.20 1278.93 L1088.20 1277.93 L1088.20 1276.92 L1088.20 1275.92 L1088.20 1274.92 L1088.20 1273.92 L1088.20 1272.92 L1088.20 1271.92 L1088.20 1270.92 L1088.20 1269.92 L1088.20 1268.92 L1088.20 1267.92 L1088.20 1266.92 L1088.20 1265.92 L1088.20 1264.92 L1088.20 1263.92 L1088.20 1262.92 L1088.20 1261.92 L1088.20 1260.91 L1088.20 1259.91 L1088.20 1258.91 L1088.20 1257.91 L1088.20 1256.91 L1088.20 1255.91" fill="none" stroke="#fcb900" stroke-width="14.3" />
<path d="M1088.20 1233.90 L1088.20 1232.90 L1088.20 1231.90 L1088.20 1230.90 L1088.20 1229.90 L1088.20 1228.89 L1088.20 1227.89 L1088.20 1226.89 L1088.20 1225.89 L1088.20 1224.89 L1088.20 1223.89 L1088.20 1222.89 L1088.20 1221.89 L1088.20 1220.89 L1088.20 1219.89 L1088.20 1218.89 L1088.20 1217.89 L1088.20 1216.89 L1088.20 1215.89 L1088.20 1214.89 L1088.20 1213.89 L1088.20 1212.88 L1088.20 1211.88 L1088.20 1210.88 L1088.20 1209.88 L1088.20 1208.88 L1088.20 1207.88 L1088.20 1206.88 L1088.20 1205.88 L1088.20 1204.88 L1088.20 1203.88 L1088.20 1202.88 L1088.20 1201.88 L1088.20 1200.88 L1088.20 1199.88 L1088.20 1198.88 L1088.20 1197.88 L1088.20 1196.87 L1088.20 1195.87 L1088.20 1194.87 L1088.20 1193.87" fill="none" stroke="#fcb900" stroke-width="14.3" />
<path d="M1088.20 1172.36 L1088.20 1171.36 L1088.20 1170.36 L1088.20 1169.36 L1088.20 1168.36 L1088.20 1167.36 L1088.20 1166.36 L1088.20 1165.36 L1088.20 1164.35 L1088.20 1163.35 L1088.20 1162.35 L1088.20 1161.35 L1088.20 1160.35 L1088.20 1159.35 L1088.20 1158.35 L1088.20 1157.35 L1088.20 1156.35 L1088.20 1155.35 L1088.20 1154.35 L1088.20 1153.35 L1088.20 1152.35 L1088.20 1151.35 L1088.20 1150.35 L1088.20 1149.35 L1088.20 1148.34 L1088.20 1147.34 L1088.20 1146.34 L1088.20 1145.34 L1088.20 1144.34 L1088.20 1143.34 L1088.20 1142.34 L1088.20 1141.34 L1088.20 1140.34 L1088.20 1139.34 L1088.20 1138.34 L1088.20 1137.34 L1088.20 1136.34 L1088.20 1135.34 L1088.20 1134.34 L1088.20 1133.34 L1088.20 1132.33 L1088.20 1131.33 L1088.20 1130.83" fill="none" stroke="#fcb900" stroke-width="14.3" />
<path d="M1088.20 1108.82 L1088.20 1107.82 L1088.20 1106.82 L1088.20 1105.82 L1088.20 1104.82 L1088.20 1103.82 L1088.20 1102.82 L1088.20 1101.82 L1088.20 1100.82 L1088.20 1099.81 L1088.20 1098.81 L1088.20 1097.81 L1088.20 1096.81 L1088.20 1095.81 L1088.20 1094.81 L1088.20 1093.81 L1088.20 1092.81 L1088.20 1091.81 L1088.20 1090.81 L1088.20 1089.81 L1088.20 1088.81 L1088.20 1087.81 L1088.20 1086.81 L1088.20 1085.81 L1088.20 1084.81 L1088.20 1083.80 L1088.20 1082.80 L1088.20 1081.80 L1088.20 1080.80 L1088.20 1079.80 L1088.20 1078.80 L1088.20 1077.80 L1088.20 1076.80 L1088.20 1075.80 L1088.20 1074.80 L1088.20 1073.80 L1088.20 1072.80 L1088.20 1071.80 L1088.20 1070.80 L1088.20 1069.80 L1088.20 1068.80" fill="none" stroke="#fcb900" stroke-width="14.3" />
<path d="M1088.20 1046.78 L1088.20 1045.78 L1088.20 1044.78 L1088.20 1043.78 L1088.20 1042.78 L1088.20 1041.78 L1088.20 1040.78 L1088.20 1039.78 L1088.20 1038.78 L1088.20 1037.78 L1088.20 1036.78 L1088.20 1035.77 L1088.20 1034.77 L1088.20 1033.77 L1088.20 1032.77 L1088.20 1031.77 L1088.20 1030.77 L1088.20 1029.77 L1088.20 1028.77 L1088.20 1027.77 L1088.20 1026.77 L1088.20 1025.77 L1088.20 1024.77 L1088.20 1023.77 L1088.20 1022.77 L1088.20 1021.77 L1088.20 1020.77 L1088.20 1019.76 L1088.20 1018.76 L1088.20 1017.76 L1088.20 1016.76 L1088.20 1015.76 L1088.20 1014.76 L1088.20 1013.76 L1088.20 1012.76 L1088.20 1011.76 L1088.20 1010.76 L1088.20 1009.76 L1088.20 1008.76 L1088.20 1007.76 L1088.20 1006.76" fill="none" stroke="#fcb900" stroke-width="14.3" />
<path d="M1088.20 984.74 L1088.20 983.74 L1088.20 982.74 L1088.20 981.74 L1088.20 980.74 L1088.20 979.74 L1088.20 978.74 L1088.20 977.74 L1088.20 976.74 L1088.20 975.74 L1088.20 974.74 L1088.20 973.74 L1088.20 972.74 L1088.20 971.74 L1088.20 970.73 L1088.20 969.73 L1088.20 968.73 L1088.20 967.73 L1088.20 966.73 L1088.20 965.73 L1088.20 964.73 L1088.20 963.73 L1088.20 962.73 L1088.20 961.73 L1088.20 960.73 L1088.20 959.73 L1088.20 958.73 L1088.20 957.73 L1088.20 956.73 L1088.20 955.73 L1088.20 954.72 L1088.20 953.72 L1088.20 952.72 L1088.20 951.72 L1088.20 950.72 L1088.20 949.72 L1088.20 948.72 L1088.20 947.72 L1088.20 946.72 L1088.20 945.72 L1088.20 944.72 L1088.20 944.22" fill="none" stroke="#fcb900" stroke-width="14.3" />
<polygon points="802.00,306.25 996.00,306.25 985.50,284.00 1058.00,316.50 985.50,349.00 996.00,328.25 802.00,328.25" fill="#ec0008"/>
<polygon points="1060.75,354.48 859.50,354.48 866.00,335.50 798.75,365.50 866.00,395.50 859.50,375.73 1060.75,375.73" fill="#0b6fe9"/>
<polygon points="1654.00,345.77 1855.00,345.77 1846.50,324.50 1916.00,355.00 1846.50,385.50 1855.00,367.02 1654.00,367.02" fill="#0b6fe9"/>
<polygon points="823.00,1141.75 1005.00,1141.75 997.50,1119.75 1067.00,1151.00 997.50,1182.25 1005.00,1163.25 823.00,1163.25" fill="#ec0008"/>
<polygon points="1067.50,1189.47 880.00,1189.47 887.00,1170.80 820.75,1201.30 887.00,1231.80 880.00,1210.72 1067.50,1210.72" fill="#0b6fe9"/>
<polygon points="1655.50,1141.75 1841.00,1141.75 1834.40,1119.75 1903.75,1151.00 1834.40,1182.25 1841.00,1163.75 1655.50,1163.75" fill="#ec0008"/>
<polygon points="1907.00,1189.50 1712.50,1189.50 1720.20,1171.00 1652.00,1201.00 1720.20,1231.00 1712.50,1210.50 1907.00,1210.50" fill="#0b6fe9"/>
<polygon points="1283.05,874.00 1283.05,688.00 1262.00,693.00 1293.00,627.00 1324.00,693.00 1304.35,688.00 1304.35,874.00" fill="#ec0008"/>
<polygon points="1327.05,625.00 1327.05,790.00 1309.60,783.50 1339.00,849.40 1368.40,783.50 1348.35,790.00 1348.35,625.00" fill="#0b6fe9"/>
<line x1="342.50" y1="207.70" x2="342.50" y2="281.00" stroke="#0b0b0b" stroke-width="9.0" stroke-linecap="butt"/>
<line x1="342.50" y1="159.80" x2="342.50" y2="208.00" stroke="#ea000e" stroke-width="9.0" stroke-linecap="butt"/>
<line x1="369.50" y1="207.70" x2="369.50" y2="281.00" stroke="#0b0b0b" stroke-width="9.0" stroke-linecap="butt"/>
<line x1="369.50" y1="159.80" x2="369.50" y2="208.00" stroke="#ea000e" stroke-width="9.0" stroke-linecap="butt"/>
<polyline points="249.00,335.00 356.00,276.00 495.30,347.40" fill="none" stroke="#0b0b0b" stroke-width="9.0" stroke-linejoin="round" stroke-linecap="butt" stroke-miterlimit="6"/>
<line x1="495.40" y1="345.00" x2="495.40" y2="469.00" stroke="#0b0b0b" stroke-width="8.2" stroke-linecap="butt"/>
<line x1="495.00" y1="347.40" x2="602.50" y2="286.00" stroke="#0b0b0b" stroke-width="8.4" stroke-linecap="butt"/>
<line x1="517.00" y1="365.00" x2="611.00" y2="315.50" stroke="#0b0b0b" stroke-width="6.5" stroke-linecap="butt"/>
<line x1="681.00" y1="295.00" x2="773.50" y2="347.50" stroke="#0b0b0b" stroke-width="7" stroke-linecap="butt"/>
<line x1="461.00" y1="532.50" x2="391.00" y2="571.00" stroke="#0b0b0b" stroke-width="7.5" stroke-linecap="butt"/>
<line x1="537.00" y1="534.00" x2="603.00" y2="572.50" stroke="#0b0b0b" stroke-width="7.6" stroke-linecap="butt"/>
<text transform="matrix(0.9283 0 0 0.9534 320.44 151.55)" font-size="100" fill="#0b0b0b">O</text>
<text transform="matrix(0.9463 0 0 1.0113 79.44 393.29)" font-size="100" fill="#0b0b0b" stroke="#0b0b0b" stroke-width="0.41" stroke-linejoin="miter">BrC</text>
<text transform="matrix(0.8909 0 0 0.9462 610.64 304.35)" font-size="100" fill="#0b0b0b" stroke="#0b0b0b" stroke-width="2.07" stroke-linejoin="miter">N</text>
<text transform="matrix(0.8784 0 0 0.9433 467.25 544.45)" font-size="100" fill="#0b0b0b" stroke="#0b0b0b" stroke-width="2.09" stroke-linejoin="miter">N</text>
<text transform="matrix(0.9141 0 0 0.9608 252.95 628.05)" font-size="100" fill="#0b0b0b" stroke="#0b0b0b" stroke-width="2.03" stroke-linejoin="miter">H</text>
<text transform="matrix(0.9455 0 0 1.0042 319.63 629.80)" font-size="100" fill="#0b0b0b" stroke="#0b0b0b" stroke-width="0.41" stroke-linejoin="miter">C</text>
<text transform="matrix(0.9141 0 0 0.9644 609.45 628.05)" font-size="100" fill="#0b0b0b" stroke="#0b0b0b" stroke-width="2.02" stroke-linejoin="miter">H</text>
<polyline points="1262.50,287.50 1161.00,345.30 1161.00,467.50" fill="none" stroke="#0b0b0b" stroke-width="8.6" stroke-linejoin="miter" stroke-linecap="butt" stroke-miterlimit="6"/>
<line x1="1188.50" y1="359.00" x2="1188.50" y2="467.50" stroke="#0b0b0b" stroke-width="8" stroke-linecap="butt"/>
<polyline points="1337.50,285.00 1441.50,344.30 1441.50,468.50" fill="none" stroke="#0b0b0b" stroke-width="8.6" stroke-linejoin="miter" stroke-linecap="butt" stroke-miterlimit="6"/>
<line x1="1326.00" y1="312.50" x2="1414.00" y2="362.50" stroke="#0b0b0b" stroke-width="7.5" stroke-linecap="butt"/>
<line x1="1441.50" y1="344.30" x2="1528.00" y2="298.50" stroke="#0b0b0b" stroke-width="9.0" stroke-linecap="butt"/>
<polygon points="1436.80,314.20 1522.80,267.40 1525.00,270.80 1440.80,321.60" fill="#c8101c"/>
<polyline points="1202.50,536.00 1302.50,592.60 1404.00,536.00" fill="none" stroke="#0b0b0b" stroke-width="8.6" stroke-linejoin="miter" stroke-linecap="butt" stroke-miterlimit="6"/>
<line x1="1303.00" y1="560.00" x2="1396.00" y2="507.50" stroke="#0b0b0b" stroke-width="7.5" stroke-linecap="butt"/>
<text transform="matrix(0.8694 0 0 0.9433 1268.32 299.35)" font-size="100" fill="#0b0b0b" stroke="#0b0b0b" stroke-width="2.10" stroke-linejoin="miter">N</text>
<text transform="matrix(0.9052 0 0 0.9680 1532.53 300.55)" font-size="100" fill="#0b0b0b" stroke="#0b0b0b" stroke-width="2.03" stroke-linejoin="miter">H</text>
<text transform="matrix(0.9209 0 0 0.9463 1126.97 546.05)" font-size="100" fill="#0b0b0b">O</text>
<text transform="matrix(0.9063 0 0 0.9534 1407.04 546.05)" font-size="100" fill="#0b0b0b">O</text>
<text transform="matrix(0.8990 0 0 0.9421 1268.57 975.26)" font-size="100" fill="#0b0b0b">O</text>
<text transform="matrix(0.8953 0 0 0.9463 1532.59 987.05)" font-size="100" fill="#0b0b0b">O</text>
<polygon points="1298.20,987.50 1306.60,987.50 1308.30,1100.00 1296.70,1100.00" fill="#0b0b0b"/>
<line x1="1553.80" y1="1041.70" x2="1553.80" y2="1109.50" stroke="#0b0b0b" stroke-width="7.5" stroke-linecap="butt"/>
<line x1="1553.80" y1="997.50" x2="1553.80" y2="1042.00" stroke="#ae001e" stroke-width="7.5" stroke-linecap="butt"/>
<line x1="1580.60" y1="1041.70" x2="1580.60" y2="1108.50" stroke="#0b0b0b" stroke-width="7.7" stroke-linecap="butt"/>
<line x1="1580.60" y1="997.50" x2="1580.60" y2="1042.00" stroke="#ae001e" stroke-width="7.7" stroke-linecap="butt"/>
<circle cx="1580.6" cy="1108" r="3.85" fill="#0b0b0b"/>
<polyline points="1163.50,1296.00 1163.50,1173.90 1302.50,1098.70 1442.50,1172.80 1442.50,1296.00" fill="none" stroke="#0b0b0b" stroke-width="8.3" stroke-linejoin="miter" stroke-linecap="butt" stroke-miterlimit="6"/>
<line x1="1191.00" y1="1187.50" x2="1191.00" y2="1296.00" stroke="#0b0b0b" stroke-width="7" stroke-linecap="butt"/>
<line x1="1305.00" y1="1130.00" x2="1416.00" y2="1191.00" stroke="#0b0b0b" stroke-width="6.3" stroke-linecap="butt"/>
<line x1="1442.50" y1="1172.80" x2="1555.50" y2="1106.70" stroke="#0b0b0b" stroke-width="8" stroke-linecap="butt"/>
<line x1="1551.00" y1="1108.40" x2="1582.00" y2="1103.60" stroke="#0b0b0b" stroke-width="5.8" stroke-linecap="butt"/>
<line x1="1439.70" y1="1144.70" x2="1536.00" y2="1091.30" stroke="#0b0b0b" stroke-width="6.2" stroke-linecap="butt"/>
<text transform="matrix(0.9209 0 0 0.9605 1129.47 1375.04)" font-size="100" fill="#0b0b0b">O</text>
<text transform="matrix(0.9283 0 0 0.9562 1408.94 1374.74)" font-size="100" fill="#0b0b0b">O</text>
<polyline points="1204.00,1364.50 1303.00,1420.60 1405.00,1365.00" fill="none" stroke="#0b0b0b" stroke-width="8.2" stroke-linejoin="miter" stroke-linecap="butt" stroke-miterlimit="6"/>
<line x1="1303.75" y1="1387.80" x2="1398.75" y2="1335.00" stroke="#0b0b0b" stroke-width="6.6" stroke-linecap="butt"/>
<line x1="1917.50" y1="287.50" x2="2006.00" y2="337.50" stroke="#0b0b0b" stroke-width="6.8" stroke-linecap="butt"/>
<text transform="matrix(0.8694 0 0 0.9578 2014.32 392.45)" font-size="100" fill="#0b0b0b" stroke="#0b0b0b" stroke-width="2.08" stroke-linejoin="miter">N</text>
<line x1="2183.00" y1="208.00" x2="2183.00" y2="282.00" stroke="#0b0b0b" stroke-width="9.0" stroke-linecap="butt"/>
<line x1="2183.00" y1="160.00" x2="2183.00" y2="208.30" stroke="#ea000e" stroke-width="9.0" stroke-linecap="butt"/>
<line x1="2210.00" y1="208.00" x2="2210.00" y2="282.00" stroke="#0b0b0b" stroke-width="9.0" stroke-linecap="butt"/>
<line x1="2210.00" y1="160.00" x2="2210.00" y2="208.30" stroke="#ea000e" stroke-width="9.0" stroke-linecap="butt"/>
<polyline points="2083.00,337.70 2194.50,276.00 2306.50,336.75" fill="none" stroke="#0b0b0b" stroke-width="7.9" stroke-linejoin="round" stroke-linecap="butt" stroke-miterlimit="6"/>
<text transform="matrix(0.9165 0 0 0.9534 2159.99 151.55)" font-size="100" fill="#0b0b0b">O</text>
<text transform="matrix(0.8873 0 0 0.9608 2313.67 393.25)" font-size="100" fill="#0b0b0b" stroke="#0b0b0b" stroke-width="2.06" stroke-linejoin="miter">N</text>
<line x1="2383.50" y1="336.00" x2="2453.50" y2="297.50" stroke="#0b0b0b" stroke-width="7" stroke-linecap="butt"/>
<text transform="matrix(0.9209 0 0 0.9605 2457.97 313.04)" font-size="100" fill="#0b0b0b">O</text>
<text transform="matrix(0.8649 0 0 0.9433 2530.61 312.35)" font-size="100" fill="#0b0b0b" stroke="#0b0b0b" stroke-width="2.10" stroke-linejoin="miter">H</text>
<text transform="matrix(0.7068 0 0 0.7316 2594.31 334.27)" font-size="100" fill="#0b0b0b">3</text>
<line x1="2032.50" y1="403.75" x2="2032.50" y2="437.30" stroke="#0b0b0b" stroke-width="7.8" stroke-linecap="butt"/>
<line x1="2032.50" y1="437.00" x2="2032.50" y2="479.50" stroke="#dc0014" stroke-width="7.8" stroke-linecap="butt"/>
<line x1="2059.00" y1="403.75" x2="2059.00" y2="437.30" stroke="#0b0b0b" stroke-width="7.8" stroke-linecap="butt"/>
<line x1="2059.00" y1="437.00" x2="2059.00" y2="479.50" stroke="#dc0014" stroke-width="7.8" stroke-linecap="butt"/>
<text transform="matrix(0.9209 0 0 0.9506 2009.47 557.35)" font-size="100" fill="#0b0b0b">O</text>
<line x1="1917.50" y1="1124.90" x2="2006.00" y2="1174.90" stroke="#0b0b0b" stroke-width="6.8" stroke-linecap="butt"/>
<text transform="matrix(0.8694 0 0 0.9578 2014.32 1229.85)" font-size="100" fill="#0b0b0b" stroke="#0b0b0b" stroke-width="2.08" stroke-linejoin="miter">N</text>
<line x1="2183.00" y1="1045.40" x2="2183.00" y2="1119.40" stroke="#0b0b0b" stroke-width="9.0" stroke-linecap="butt"/>
<line x1="2183.00" y1="997.40" x2="2183.00" y2="1045.70" stroke="#ea000e" stroke-width="9.0" stroke-linecap="butt"/>
<line x1="2210.00" y1="1045.40" x2="2210.00" y2="1119.40" stroke="#0b0b0b" stroke-width="9.0" stroke-linecap="butt"/>
<line x1="2210.00" y1="997.40" x2="2210.00" y2="1045.70" stroke="#ea000e" stroke-width="9.0" stroke-linecap="butt"/>
<polyline points="2083.00,1175.10 2194.50,1113.40 2306.50,1174.15" fill="none" stroke="#0b0b0b" stroke-width="7.9" stroke-linejoin="round" stroke-linecap="butt" stroke-miterlimit="6"/>
<text transform="matrix(0.9165 0 0 0.9534 2159.99 988.95)" font-size="100" fill="#0b0b0b">O</text>
<text transform="matrix(0.8873 0 0 0.9608 2313.67 1230.65)" font-size="100" fill="#0b0b0b" stroke="#0b0b0b" stroke-width="2.06" stroke-linejoin="miter">N</text>
<line x1="2383.50" y1="1173.40" x2="2453.50" y2="1134.90" stroke="#0b0b0b" stroke-width="7" stroke-linecap="butt"/>
<text transform="matrix(0.9209 0 0 0.9605 2457.97 1150.44)" font-size="100" fill="#0b0b0b">O</text>
<text transform="matrix(0.8649 0 0 0.9433 2530.61 1149.75)" font-size="100" fill="#0b0b0b" stroke="#0b0b0b" stroke-width="2.10" stroke-linejoin="miter">H</text>
<text transform="matrix(0.7068 0 0 0.7421 2594.17 1171.66)" font-size="100" fill="#0b0b0b">5</text>
<line x1="2032.50" y1="1241.15" x2="2032.50" y2="1274.70" stroke="#0b0b0b" stroke-width="7.8" stroke-linecap="butt"/>
<line x1="2032.50" y1="1274.40" x2="2032.50" y2="1316.90" stroke="#dc0014" stroke-width="7.8" stroke-linecap="butt"/>
<line x1="2059.00" y1="1241.15" x2="2059.00" y2="1274.70" stroke="#0b0b0b" stroke-width="7.8" stroke-linecap="butt"/>
<line x1="2059.00" y1="1274.40" x2="2059.00" y2="1316.90" stroke="#dc0014" stroke-width="7.8" stroke-linecap="butt"/>
<text transform="matrix(0.9209 0 0 0.9506 2009.47 1394.75)" font-size="100" fill="#0b0b0b">O</text>
<text transform="matrix(0.9100 0 0 0.9534 320.27 986.05)" font-size="100" fill="#0b0b0b">O</text>
<line x1="341.50" y1="1043.45" x2="341.50" y2="1116.00" stroke="#0b0b0b" stroke-width="9.0" stroke-linecap="butt"/>
<line x1="341.50" y1="994.00" x2="341.50" y2="1043.75" stroke="#ea000e" stroke-width="9.0" stroke-linecap="butt"/>
<line x1="368.50" y1="1043.45" x2="368.50" y2="1116.00" stroke="#0b0b0b" stroke-width="9.0" stroke-linecap="butt"/>
<line x1="368.50" y1="994.00" x2="368.50" y2="1043.75" stroke="#ea000e" stroke-width="9.0" stroke-linecap="butt"/>
<polyline points="246.00,1170.00 355.00,1111.00 493.00,1182.50" fill="none" stroke="#0b0b0b" stroke-width="9.0" stroke-linejoin="round" stroke-linecap="butt" stroke-miterlimit="6"/>
<text transform="matrix(0.9385 0 0 0.9760 110.50 1227.82)" font-size="100" fill="#0b0b0b" stroke="#0b0b0b" stroke-width="0.42" stroke-linejoin="miter">BC</text>
<line x1="517.50" y1="1202.25" x2="610.00" y2="1150.75" stroke="#0b0b0b" stroke-width="6.4" stroke-linecap="butt"/>
<text transform="matrix(0.8918 0 0 0.9477 608.89 1137.35)" font-size="100" fill="#0b0b0b" stroke="#0b0b0b" stroke-width="2.07" stroke-linejoin="miter">N</text>
<polyline points="601.00,1121.00 493.00,1182.50 493.00,1345.00 632.50,1420.20 773.25,1344.30 773.25,1180.90 762.80,1174.96" fill="none" stroke="#0b0b0b" stroke-width="8.4" stroke-linejoin="miter" stroke-linecap="butt" stroke-miterlimit="6"/>
<line x1="765.00" y1="1176.20" x2="680.50" y2="1128.00" stroke="#0b0b0b" stroke-width="7.3" stroke-linecap="butt"/>
<line x1="744.75" y1="1195.50" x2="744.75" y2="1326.50" stroke="#0b0b0b" stroke-width="7.2" stroke-linecap="butt"/>
<line x1="520.00" y1="1328.00" x2="632.50" y2="1388.75" stroke="#0b0b0b" stroke-width="6.6" stroke-linecap="butt"/>
<text transform="matrix(0.9041 0 0 0.9462 895.29 464.30)" font-size="100" fill="#0b0b0b" stroke="#0b0b0b" stroke-width="0.43" stroke-linejoin="miter">B</text>
<text transform="matrix(0.4978 0 0 0.4802 956.66 479.52)" font-size="100" fill="#0b0b0b">O</text>
<text transform="matrix(0.9323 0 0 0.9499 1732.55 309.30)" font-size="100" fill="#0b0b0b" stroke="#0b0b0b" stroke-width="0.43" stroke-linejoin="miter">B</text>
<text transform="matrix(0.5015 0 0 0.5014 1794.39 325.00)" font-size="100" fill="#0b0b0b">O</text>
<text transform="matrix(0.9323 0 0 0.9535 912.55 1301.80)" font-size="100" fill="#0b0b0b" stroke="#0b0b0b" stroke-width="0.42" stroke-linejoin="miter">B</text>
<text transform="matrix(0.5088 0 0 0.4944 973.61 1315.51)" font-size="100" fill="#0b0b0b">O</text>
</g>
</svg>
</body></html>
